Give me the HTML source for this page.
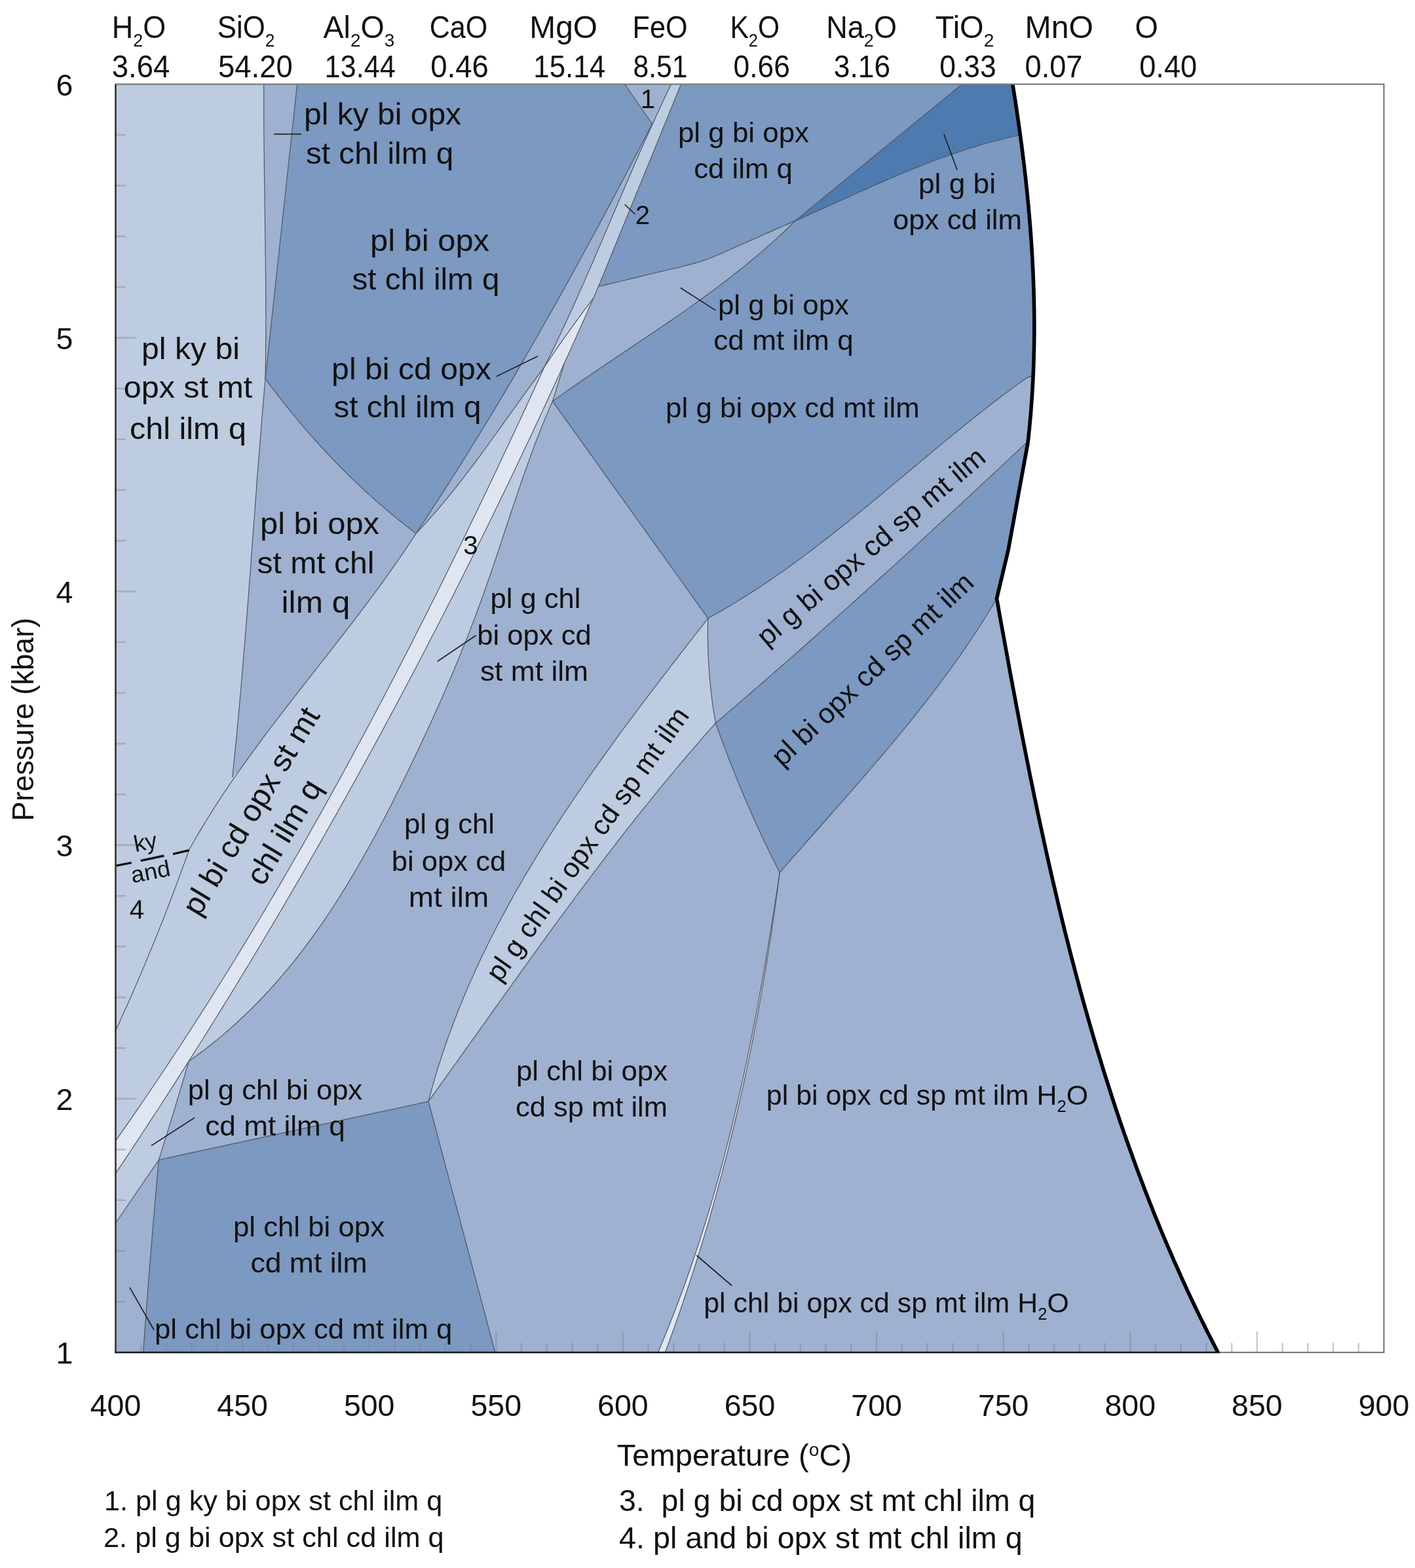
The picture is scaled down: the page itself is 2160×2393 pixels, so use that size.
<!DOCTYPE html>
<html lang="en"><head><meta charset="utf-8"><title>P-T pseudosection</title>
<style>html,body{margin:0;padding:0;background:#fff}body{width:2160px;height:2393px;overflow:hidden}svg{display:block}text{font-family:'Liberation Sans', sans-serif;fill:#111}</style>
</head><body>
<svg width="2160" height="2393" viewBox="0 0 2160 2393">
<rect x="0" y="0" width="2160" height="2393" fill="#fff"/>
<g stroke="none">
<path fill="#9eb1d0" d="M176.5,128.5 L1545.8,128.5 L1546.0,129.9 L1546.2,131.2 L1546.5,132.6 L1546.7,133.9 L1546.9,135.3 L1547.1,136.6 L1547.3,138.0 L1547.5,139.4 L1547.8,140.7 L1548.0,142.1 L1548.2,143.4 L1548.4,144.8 L1548.6,146.2 L1548.8,147.5 L1549.0,148.9 L1549.2,150.2 L1549.5,151.6 L1549.7,152.9 L1549.9,154.3 L1550.1,155.7 L1550.3,157.0 L1550.5,158.4 L1550.7,159.7 L1550.9,161.1 L1551.1,162.5 L1551.3,163.8 L1551.5,165.2 L1551.7,166.5 L1551.9,167.9 L1552.1,169.3 L1552.3,170.6 L1552.5,172.0 L1552.7,173.3 L1552.9,174.7 L1553.1,176.1 L1553.3,177.4 L1553.5,178.8 L1553.7,180.1 L1553.9,181.5 L1554.1,182.9 L1554.3,184.2 L1554.5,185.6 L1554.7,187.0 L1554.9,188.3 L1555.1,189.7 L1555.3,191.0 L1555.5,192.4 L1555.7,193.8 L1555.9,195.1 L1556.1,196.5 L1556.3,197.8 L1556.4,199.2 L1556.6,200.6 L1556.8,201.9 L1557.0,203.3 L1557.2,204.7 L1557.4,206.0 L1557.6,207.4 L1557.8,208.7 L1557.9,210.1 L1558.1,211.5 L1558.3,212.8 L1558.5,214.2 L1558.7,215.6 L1558.8,216.9 L1559.0,218.3 L1559.2,219.6 L1559.4,221.0 L1559.6,222.4 L1559.7,223.7 L1559.9,225.1 L1560.1,226.5 L1560.3,227.8 L1560.4,229.2 L1560.6,230.6 L1560.8,231.9 L1561.0,233.3 L1561.1,234.6 L1561.3,236.0 L1561.5,237.4 L1561.6,238.7 L1561.8,240.1 L1562.0,241.5 L1562.2,242.8 L1562.3,244.2 L1562.5,245.6 L1562.7,246.9 L1562.8,248.3 L1563.0,249.7 L1563.1,251.0 L1563.3,252.4 L1563.5,253.7 L1563.6,255.1 L1563.8,256.5 L1563.9,257.8 L1564.1,259.2 L1564.3,260.6 L1564.4,261.9 L1564.6,263.3 L1564.7,264.7 L1564.9,266.0 L1565.0,267.4 L1565.2,268.8 L1565.4,270.1 L1565.5,271.5 L1565.7,272.9 L1565.8,274.2 L1566.0,275.6 L1566.1,277.0 L1566.3,278.3 L1566.4,279.7 L1566.5,281.1 L1566.7,282.4 L1566.8,283.8 L1567.0,285.2 L1567.1,286.5 L1567.3,287.9 L1567.4,289.3 L1567.6,290.6 L1567.7,292.0 L1567.8,293.4 L1568.0,294.7 L1568.1,296.1 L1568.3,297.5 L1568.4,298.8 L1568.5,300.2 L1568.7,301.6 L1568.8,302.9 L1568.9,304.3 L1569.1,305.7 L1569.2,307.0 L1569.3,308.4 L1569.5,309.8 L1569.6,311.1 L1569.7,312.5 L1569.8,313.9 L1570.0,315.2 L1570.1,316.6 L1570.2,318.0 L1570.3,319.3 L1570.5,320.7 L1570.6,322.1 L1570.7,323.5 L1570.8,324.8 L1571.0,326.2 L1571.1,327.6 L1571.2,328.9 L1571.3,330.3 L1571.4,331.7 L1571.5,333.0 L1571.7,334.4 L1571.8,335.8 L1571.9,337.1 L1572.0,338.5 L1572.1,339.9 L1572.2,341.2 L1572.3,342.6 L1572.4,344.0 L1572.6,345.3 L1572.7,346.7 L1572.8,348.1 L1572.9,349.5 L1573.0,350.8 L1573.1,352.2 L1573.2,353.6 L1573.3,354.9 L1573.4,356.3 L1573.5,357.7 L1573.6,359.0 L1573.7,360.4 L1573.8,361.8 L1573.9,363.2 L1574.0,364.5 L1574.1,365.9 L1574.2,367.3 L1574.3,368.6 L1574.4,370.0 L1574.5,371.4 L1574.5,372.7 L1574.6,374.1 L1574.7,375.5 L1574.8,376.9 L1574.9,378.2 L1575.0,379.6 L1575.1,381.0 L1575.2,382.3 L1575.2,383.7 L1575.3,385.1 L1575.4,386.4 L1575.5,387.8 L1575.6,389.2 L1575.6,390.6 L1575.7,391.9 L1575.8,393.3 L1575.9,394.7 L1576.0,396.0 L1576.0,397.4 L1576.1,398.8 L1576.2,400.1 L1576.2,401.5 L1576.3,402.9 L1576.4,404.3 L1576.5,405.6 L1576.5,407.0 L1576.6,408.4 L1576.7,409.7 L1576.7,411.1 L1576.8,412.5 L1576.9,413.9 L1576.9,415.2 L1577.0,416.6 L1577.0,418.0 L1577.1,419.3 L1577.2,420.7 L1577.2,422.1 L1577.3,423.5 L1577.3,424.8 L1577.4,426.2 L1577.4,427.6 L1577.5,428.9 L1577.5,430.3 L1577.6,431.7 L1577.6,433.1 L1577.7,434.4 L1577.7,435.8 L1577.8,437.2 L1577.8,438.5 L1577.9,439.9 L1577.9,441.3 L1578.0,442.7 L1578.0,444.0 L1578.0,445.4 L1578.1,446.8 L1578.1,448.1 L1578.2,449.5 L1578.2,450.9 L1578.2,452.3 L1578.3,453.6 L1578.3,455.0 L1578.3,456.4 L1578.4,457.8 L1578.4,459.1 L1578.4,460.5 L1578.4,461.9 L1578.5,463.2 L1578.5,464.6 L1578.5,466.0 L1578.5,467.4 L1578.6,468.7 L1578.6,470.1 L1578.6,471.5 L1578.6,472.8 L1578.7,474.2 L1578.7,475.6 L1578.7,477.0 L1578.7,478.3 L1578.7,479.7 L1578.7,481.1 L1578.7,482.5 L1578.8,483.8 L1578.8,485.2 L1578.8,486.6 L1578.8,487.9 L1578.8,489.3 L1578.8,490.7 L1578.8,492.1 L1578.8,493.4 L1578.8,494.8 L1578.8,496.2 L1578.8,497.5 L1578.8,498.9 L1578.8,500.3 L1578.8,501.7 L1578.8,503.0 L1578.8,504.4 L1578.8,505.8 L1578.8,507.2 L1578.8,508.5 L1578.8,509.9 L1578.8,511.3 L1578.8,512.6 L1578.7,514.0 L1578.7,515.4 L1578.7,516.8 L1578.7,518.1 L1578.7,519.5 L1578.7,520.9 L1578.6,522.3 L1578.6,523.6 L1578.6,525.0 L1578.6,526.4 L1578.6,527.8 L1578.5,529.1 L1578.5,530.5 L1578.5,531.9 L1578.5,533.2 L1578.4,534.6 L1578.4,536.0 L1578.4,537.4 L1578.3,538.7 L1578.3,540.1 L1578.3,541.5 L1578.2,542.9 L1578.2,544.2 L1578.2,545.6 L1578.1,547.0 L1578.1,548.3 L1578.0,549.7 L1578.0,551.1 L1577.9,552.5 L1577.9,553.8 L1577.9,555.2 L1577.8,556.6 L1577.8,558.0 L1577.7,559.3 L1577.7,560.7 L1577.6,562.1 L1577.6,563.4 L1577.5,564.8 L1577.4,566.2 L1577.4,567.6 L1577.3,568.9 L1577.3,570.3 L1577.2,571.7 L1577.2,573.1 L1577.1,574.4 L1577.0,575.8 L1577.0,577.2 L1576.9,578.5 L1576.8,579.9 L1576.8,581.3 L1576.7,582.7 L1576.6,584.0 L1576.5,585.4 L1576.5,586.8 L1576.4,588.2 L1576.3,589.5 L1576.2,590.9 L1576.2,592.3 L1576.1,593.7 L1576.0,595.0 L1575.9,596.4 L1575.8,597.8 L1575.8,599.1 L1575.7,600.5 L1575.6,601.9 L1575.5,603.3 L1575.4,604.6 L1575.3,606.0 L1575.2,607.4 L1575.1,608.8 L1575.0,610.1 L1574.9,611.5 L1574.8,612.9 L1574.7,614.2 L1574.6,615.6 L1574.5,617.0 L1574.4,618.4 L1574.3,619.7 L1574.2,621.1 L1574.1,622.5 L1574.0,623.9 L1573.9,625.2 L1573.8,626.6 L1573.7,628.0 L1573.6,629.3 L1573.5,630.7 L1573.4,632.1 L1573.2,633.5 L1573.1,634.8 L1573.0,636.2 L1572.9,637.6 L1572.8,639.0 L1572.6,640.3 L1572.5,641.7 L1572.4,643.1 L1572.3,644.4 L1572.1,645.8 L1572.0,647.2 L1571.9,648.6 L1571.7,649.9 L1571.6,651.3 L1571.5,652.7 L1571.3,654.0 L1571.2,655.4 L1571.1,656.8 L1570.9,658.2 L1570.8,659.5 L1570.6,660.9 L1570.5,662.3 L1570.4,663.7 L1570.2,665.0 L1570.1,666.4 L1569.9,667.8 L1569.8,669.1 L1569.6,670.5 L1569.5,671.9 L1569.3,673.3 L1569.2,674.6 L1569.0,676.0 L1539.0,840.0 L1521.5,913.5 L1523.3,923.3 L1525.0,933.2 L1526.8,943.0 L1528.6,952.9 L1530.4,962.7 L1532.2,972.6 L1534.0,982.4 L1535.8,992.3 L1537.6,1002.1 L1539.4,1012.0 L1541.2,1021.9 L1543.0,1031.7 L1544.9,1041.6 L1546.7,1051.4 L1548.6,1061.3 L1550.4,1071.1 L1552.3,1081.0 L1554.2,1090.9 L1556.1,1100.7 L1558.0,1110.6 L1559.9,1120.4 L1561.8,1130.3 L1563.8,1140.1 L1565.7,1150.0 L1567.7,1159.8 L1569.7,1169.7 L1571.6,1179.5 L1573.6,1189.4 L1575.7,1199.2 L1577.7,1209.1 L1579.7,1218.9 L1581.8,1228.7 L1583.8,1238.6 L1585.9,1248.4 L1588.0,1258.2 L1590.2,1268.0 L1592.3,1277.9 L1594.4,1287.7 L1596.6,1297.5 L1598.8,1307.3 L1601.0,1317.1 L1603.2,1326.9 L1605.4,1336.7 L1607.7,1346.5 L1610.0,1356.2 L1612.3,1366.0 L1614.6,1375.8 L1616.9,1385.6 L1619.3,1395.3 L1621.6,1405.1 L1624.0,1414.8 L1626.4,1424.6 L1628.9,1434.3 L1631.3,1444.0 L1633.8,1453.8 L1636.3,1463.5 L1638.9,1473.2 L1641.4,1482.9 L1644.0,1492.6 L1646.6,1502.3 L1649.2,1512.0 L1651.9,1521.7 L1654.5,1531.3 L1657.2,1541.0 L1660.0,1550.6 L1662.7,1560.3 L1665.5,1569.9 L1668.3,1579.5 L1671.1,1589.1 L1674.0,1598.8 L1676.9,1608.4 L1679.8,1617.9 L1682.7,1627.5 L1685.7,1637.1 L1688.7,1646.7 L1691.7,1656.2 L1694.8,1665.7 L1697.9,1675.3 L1701.0,1684.8 L1704.1,1694.3 L1707.3,1703.8 L1710.5,1713.3 L1713.8,1722.8 L1717.0,1732.2 L1720.4,1741.7 L1723.7,1751.1 L1727.1,1760.5 L1730.5,1770.0 L1733.9,1779.4 L1737.4,1788.8 L1740.9,1798.1 L1744.5,1807.5 L1748.0,1816.9 L1751.7,1826.2 L1755.3,1835.5 L1759.0,1844.8 L1762.7,1854.2 L1766.5,1863.4 L1770.3,1872.7 L1774.1,1882.0 L1778.0,1891.2 L1781.9,1900.5 L1785.9,1909.7 L1789.9,1918.9 L1793.9,1928.1 L1798.0,1937.2 L1802.1,1946.4 L1806.2,1955.5 L1810.4,1964.7 L1814.6,1973.8 L1818.9,1982.9 L1823.2,1992.0 L1827.6,2001.0 L1832.0,2010.1 L1836.4,2019.1 L1840.9,2028.1 L1845.4,2037.1 L1850.0,2046.1 L1854.6,2055.1 L1859.3,2064.0 L176.5,2064.0Z"/>
<path fill="#7b99c1" d="M453.6,128.5 L405.0,578.0 L407.0,580.7 L409.0,583.3 L410.9,586.0 L412.9,588.7 L414.9,591.3 L416.9,593.9 L419.0,596.6 L421.0,599.2 L423.0,601.8 L425.0,604.5 L427.1,607.1 L429.1,609.7 L431.2,612.3 L433.2,614.9 L435.3,617.5 L437.3,620.1 L439.4,622.7 L441.5,625.2 L443.6,627.8 L445.7,630.4 L447.8,632.9 L449.9,635.5 L452.0,638.0 L454.1,640.6 L456.2,643.1 L458.4,645.6 L460.5,648.1 L462.6,650.7 L464.8,653.2 L467.0,655.7 L469.1,658.2 L471.3,660.7 L473.5,663.1 L475.6,665.6 L477.8,668.1 L480.0,670.6 L482.2,673.0 L484.4,675.5 L486.7,677.9 L488.9,680.4 L491.1,682.8 L493.3,685.2 L495.6,687.6 L497.8,690.1 L500.1,692.5 L502.4,694.9 L504.6,697.3 L506.9,699.6 L509.2,702.0 L511.5,704.4 L513.8,706.8 L516.1,709.1 L518.4,711.5 L520.7,713.8 L523.0,716.2 L525.4,718.5 L527.7,720.8 L530.0,723.2 L532.4,725.5 L534.8,727.8 L537.1,730.1 L539.5,732.4 L541.9,734.7 L544.3,736.9 L546.7,739.2 L549.1,741.5 L551.5,743.7 L553.9,746.0 L556.3,748.2 L558.7,750.5 L561.2,752.7 L563.6,754.9 L566.1,757.1 L568.5,759.3 L571.0,761.5 L573.5,763.7 L576.0,765.9 L578.5,768.1 L580.9,770.3 L583.5,772.4 L586.0,774.6 L588.5,776.7 L591.0,778.9 L593.5,781.0 L596.1,783.1 L598.6,785.3 L601.2,787.4 L603.7,789.5 L606.3,791.6 L608.9,793.7 L611.5,795.7 L614.1,797.8 L616.7,799.9 L619.3,801.9 L621.9,804.0 L624.5,806.0 L627.2,808.0 L629.8,810.1 L632.4,812.1 L635.1,814.1 L645.1,799.0 L655.0,783.9 L664.9,768.8 L674.7,753.6 L684.5,738.4 L694.1,723.2 L703.8,707.9 L713.3,692.6 L722.8,677.3 L732.3,661.9 L741.7,646.5 L751.0,631.1 L760.3,615.6 L769.6,600.1 L778.8,584.6 L787.9,569.0 L797.0,553.4 L806.0,537.8 L815.0,522.2 L824.0,506.5 L832.9,490.8 L841.8,475.1 L850.6,459.4 L859.4,443.6 L868.1,427.9 L876.9,412.1 L885.5,396.2 L894.2,380.4 L902.8,364.5 L911.4,348.7 L919.9,332.8 L928.4,316.9 L936.9,300.9 L945.4,285.0 L953.8,269.0 L962.2,253.0 L970.6,237.0 L978.9,221.0 L987.3,205.0 L995.6,189.0 L953.7,128.5Z"/>
<path fill="#7b99c1" d="M1039.6,128.5 L913.6,437.3 L917.9,436.3 L923.4,434.9 L930.0,433.4 L937.3,431.6 L945.3,429.7 L953.7,427.7 L962.2,425.6 L970.7,423.6 L978.9,421.6 L986.7,419.7 L993.8,418.0 L1000.0,416.5 L1005.5,415.2 L1010.6,414.0 L1015.4,412.9 L1019.9,411.8 L1024.2,410.8 L1028.2,409.9 L1032.1,409.0 L1035.8,408.1 L1039.4,407.2 L1043.0,406.3 L1046.5,405.4 L1050.0,404.5 L1053.3,403.6 L1056.4,402.8 L1059.1,402.1 L1061.7,401.4 L1064.1,400.7 L1066.6,400.0 L1069.0,399.3 L1071.7,398.4 L1074.5,397.5 L1077.6,396.3 L1081.1,395.0 L1085.0,393.5 L1089.4,391.7 L1094.1,389.8 L1099.2,387.6 L1104.5,385.3 L1110.0,382.8 L1115.7,380.3 L1121.5,377.7 L1127.3,375.1 L1133.1,372.5 L1138.9,369.9 L1144.5,367.4 L1150.0,365.0 L1155.6,362.6 L1161.4,360.0 L1167.5,357.3 L1173.7,354.6 L1179.9,351.9 L1185.9,349.3 L1191.7,346.7 L1197.2,344.3 L1202.3,342.1 L1206.8,340.1 L1210.6,338.4 L1213.7,337.1 L1468.7,128.5Z"/>
<path fill="#7b99c1" d="M1213.7,337.1 L1222.1,333.4 L1230.5,329.7 L1238.9,325.9 L1247.3,322.1 L1255.7,318.4 L1264.1,314.6 L1272.5,310.8 L1280.9,307.0 L1289.3,303.2 L1297.7,299.4 L1306.1,295.6 L1314.6,291.8 L1323.0,288.1 L1331.4,284.3 L1339.8,280.6 L1348.3,276.9 L1356.8,273.3 L1365.2,269.6 L1373.7,266.0 L1382.2,262.5 L1390.7,259.0 L1399.3,255.6 L1407.8,252.2 L1416.4,248.8 L1425.0,245.5 L1433.6,242.3 L1442.3,239.2 L1451.0,236.1 L1459.7,233.1 L1468.4,230.2 L1477.1,227.3 L1485.9,224.6 L1494.7,221.9 L1503.6,219.3 L1512.5,216.8 L1521.4,214.5 L1530.3,212.2 L1539.3,210.0 L1548.3,208.0 L1557.4,206.0 L1557.6,207.4 L1557.8,208.7 L1557.9,210.1 L1558.1,211.5 L1558.3,212.8 L1558.5,214.2 L1558.7,215.6 L1558.8,216.9 L1559.0,218.3 L1559.2,219.6 L1559.4,221.0 L1559.6,222.4 L1559.7,223.7 L1559.9,225.1 L1560.1,226.5 L1560.3,227.8 L1560.4,229.2 L1560.6,230.6 L1560.8,231.9 L1561.0,233.3 L1561.1,234.6 L1561.3,236.0 L1561.5,237.4 L1561.6,238.7 L1561.8,240.1 L1562.0,241.5 L1562.2,242.8 L1562.3,244.2 L1562.5,245.6 L1562.7,246.9 L1562.8,248.3 L1563.0,249.7 L1563.1,251.0 L1563.3,252.4 L1563.5,253.7 L1563.6,255.1 L1563.8,256.5 L1563.9,257.8 L1564.1,259.2 L1564.3,260.6 L1564.4,261.9 L1564.6,263.3 L1564.7,264.7 L1564.9,266.0 L1565.0,267.4 L1565.2,268.8 L1565.4,270.1 L1565.5,271.5 L1565.7,272.9 L1565.8,274.2 L1566.0,275.6 L1566.1,277.0 L1566.3,278.3 L1566.4,279.7 L1566.5,281.1 L1566.7,282.4 L1566.8,283.8 L1567.0,285.2 L1567.1,286.5 L1567.3,287.9 L1567.4,289.3 L1567.6,290.6 L1567.7,292.0 L1567.8,293.4 L1568.0,294.7 L1568.1,296.1 L1568.3,297.5 L1568.4,298.8 L1568.5,300.2 L1568.7,301.6 L1568.8,302.9 L1568.9,304.3 L1569.1,305.7 L1569.2,307.0 L1569.3,308.4 L1569.5,309.8 L1569.6,311.1 L1569.7,312.5 L1569.8,313.9 L1570.0,315.2 L1570.1,316.6 L1570.2,318.0 L1570.3,319.3 L1570.5,320.7 L1570.6,322.1 L1570.7,323.5 L1570.8,324.8 L1571.0,326.2 L1571.1,327.6 L1571.2,328.9 L1571.3,330.3 L1571.4,331.7 L1571.5,333.0 L1571.7,334.4 L1571.8,335.8 L1571.9,337.1 L1572.0,338.5 L1572.1,339.9 L1572.2,341.2 L1572.3,342.6 L1572.4,344.0 L1572.6,345.3 L1572.7,346.7 L1572.8,348.1 L1572.9,349.5 L1573.0,350.8 L1573.1,352.2 L1573.2,353.6 L1573.3,354.9 L1573.4,356.3 L1573.5,357.7 L1573.6,359.0 L1573.7,360.4 L1573.8,361.8 L1573.9,363.2 L1574.0,364.5 L1574.1,365.9 L1574.2,367.3 L1574.3,368.6 L1574.4,370.0 L1574.5,371.4 L1574.5,372.7 L1574.6,374.1 L1574.7,375.5 L1574.8,376.9 L1574.9,378.2 L1575.0,379.6 L1575.1,381.0 L1575.2,382.3 L1575.2,383.7 L1575.3,385.1 L1575.4,386.4 L1575.5,387.8 L1575.6,389.2 L1575.6,390.6 L1575.7,391.9 L1575.8,393.3 L1575.9,394.7 L1576.0,396.0 L1576.0,397.4 L1576.1,398.8 L1576.2,400.1 L1576.2,401.5 L1576.3,402.9 L1576.4,404.3 L1576.5,405.6 L1576.5,407.0 L1576.6,408.4 L1576.7,409.7 L1576.7,411.1 L1576.8,412.5 L1576.9,413.9 L1576.9,415.2 L1577.0,416.6 L1577.0,418.0 L1577.1,419.3 L1577.2,420.7 L1577.2,422.1 L1577.3,423.5 L1577.3,424.8 L1577.4,426.2 L1577.4,427.6 L1577.5,428.9 L1577.5,430.3 L1577.6,431.7 L1577.6,433.1 L1577.7,434.4 L1577.7,435.8 L1577.8,437.2 L1577.8,438.5 L1577.9,439.9 L1577.9,441.3 L1578.0,442.7 L1578.0,444.0 L1578.0,445.4 L1578.1,446.8 L1578.1,448.1 L1578.2,449.5 L1578.2,450.9 L1578.2,452.3 L1578.3,453.6 L1578.3,455.0 L1578.3,456.4 L1578.4,457.8 L1578.4,459.1 L1578.4,460.5 L1578.4,461.9 L1578.5,463.2 L1578.5,464.6 L1578.5,466.0 L1578.5,467.4 L1578.6,468.7 L1578.6,470.1 L1578.6,471.5 L1578.6,472.8 L1578.7,474.2 L1578.7,475.6 L1578.7,477.0 L1578.7,478.3 L1578.7,479.7 L1578.7,481.1 L1578.7,482.5 L1578.8,483.8 L1578.8,485.2 L1578.8,486.6 L1578.8,487.9 L1578.8,489.3 L1578.8,490.7 L1578.8,492.1 L1578.8,493.4 L1578.8,494.8 L1578.8,496.2 L1578.8,497.5 L1578.8,498.9 L1578.8,500.3 L1578.8,501.7 L1578.8,503.0 L1578.8,504.4 L1578.8,505.8 L1578.8,507.2 L1578.8,508.5 L1578.8,509.9 L1578.8,511.3 L1578.8,512.6 L1578.7,514.0 L1578.7,515.4 L1578.7,516.8 L1578.7,518.1 L1578.7,519.5 L1578.7,520.9 L1578.6,522.3 L1578.6,523.6 L1578.6,525.0 L1578.6,526.4 L1578.6,527.8 L1578.5,529.1 L1578.5,530.5 L1578.5,531.9 L1578.5,533.2 L1578.4,534.6 L1578.4,536.0 L1578.4,537.4 L1578.3,538.7 L1578.3,540.1 L1578.3,541.5 L1578.2,542.9 L1578.2,544.2 L1578.2,545.6 L1578.1,547.0 L1578.1,548.3 L1578.0,549.7 L1578.0,551.1 L1577.9,552.5 L1577.9,553.8 L1577.9,555.2 L1577.8,556.6 L1577.8,558.0 L1577.7,559.3 L1577.7,560.7 L1577.6,562.1 L1577.6,563.4 L1577.5,564.8 L1577.4,566.2 L1577.4,567.6 L1577.3,568.9 L1577.3,570.3 L1577.2,571.7 L1577.2,573.1 L1567.3,576.6 L1562.3,580.2 L1557.3,583.8 L1552.3,587.4 L1547.3,591.0 L1542.4,594.7 L1537.5,598.4 L1532.5,602.1 L1527.6,605.8 L1522.7,609.5 L1517.8,613.3 L1512.9,617.0 L1508.1,620.8 L1503.2,624.6 L1498.4,628.4 L1493.5,632.2 L1488.7,636.0 L1483.9,639.9 L1479.1,643.7 L1474.3,647.6 L1469.5,651.5 L1464.7,655.3 L1459.9,659.2 L1455.1,663.1 L1450.4,667.0 L1445.6,670.9 L1440.8,674.9 L1436.1,678.8 L1431.3,682.7 L1426.6,686.6 L1421.8,690.6 L1417.1,694.5 L1412.4,698.5 L1407.6,702.4 L1402.9,706.4 L1398.2,710.3 L1393.4,714.3 L1388.7,718.2 L1384.0,722.2 L1379.2,726.2 L1374.5,730.1 L1369.8,734.1 L1365.0,738.0 L1360.3,742.0 L1355.6,745.9 L1350.8,749.9 L1346.1,753.8 L1341.4,757.8 L1336.6,761.7 L1331.9,765.6 L1327.1,769.5 L1322.4,773.5 L1317.6,777.4 L1312.8,781.3 L1308.0,785.2 L1303.3,789.0 L1298.5,792.9 L1293.7,796.8 L1288.9,800.6 L1284.1,804.5 L1279.3,808.3 L1274.4,812.1 L1269.6,816.0 L1264.7,819.8 L1259.9,823.5 L1255.0,827.3 L1250.2,831.1 L1245.3,834.8 L1240.4,838.5 L1235.5,842.2 L1230.5,845.9 L1225.6,849.6 L1220.7,853.3 L1215.7,856.9 L1210.7,860.5 L1205.7,864.2 L1200.7,867.7 L1195.7,871.3 L1190.7,874.8 L1185.6,878.4 L1180.6,881.9 L1175.5,885.4 L1170.4,888.8 L1165.3,892.2 L1160.2,895.7 L1155.0,899.0 L1149.8,902.4 L1144.6,905.7 L1139.4,909.0 L1134.2,912.3 L1129.0,915.6 L1123.7,918.8 L1118.4,922.0 L1113.1,925.2 L1107.8,928.3 L1102.4,931.4 L1097.1,934.5 L1091.7,937.6 L1086.2,940.6 L1080.8,943.6 L843.5,612.3 L852.9,605.6 L862.3,598.9 L871.8,592.3 L881.2,585.7 L890.7,579.2 L900.3,572.7 L909.8,566.2 L919.4,559.7 L929.0,553.3 L938.5,546.9 L948.1,540.4 L957.7,534.0 L967.3,527.6 L976.9,521.1 L986.5,514.7 L996.1,508.2 L1005.6,501.8 L1015.2,495.3 L1024.7,488.7 L1034.2,482.2 L1043.6,475.6 L1053.1,468.9 L1062.5,462.3 L1071.8,455.5 L1081.1,448.7 L1090.4,441.9 L1099.6,435.0 L1108.8,428.0 L1117.9,420.9 L1127.0,413.8 L1136.0,406.6 L1144.9,399.2 L1153.8,391.8 L1162.6,384.4 L1171.3,376.8 L1180.0,369.1 L1188.5,361.2 L1197.0,353.3 L1205.4,345.3 L1213.7,337.1Z"/>
<path fill="#7b99c1" d="M1092.4,1103.5 L1097.3,1099.4 L1102.1,1095.2 L1107.0,1091.1 L1111.8,1086.9 L1116.7,1082.7 L1121.5,1078.6 L1126.3,1074.4 L1131.2,1070.2 L1136.0,1066.1 L1140.9,1061.9 L1145.7,1057.7 L1150.5,1053.5 L1155.3,1049.4 L1160.2,1045.2 L1165.0,1041.0 L1169.8,1036.8 L1174.6,1032.6 L1179.4,1028.4 L1184.2,1024.2 L1189.0,1020.0 L1193.8,1015.8 L1198.6,1011.6 L1203.4,1007.4 L1208.2,1003.1 L1213.0,998.9 L1217.8,994.7 L1222.6,990.5 L1227.4,986.3 L1232.2,982.0 L1236.9,977.8 L1241.7,973.6 L1246.5,969.3 L1251.3,965.1 L1256.0,960.8 L1260.8,956.6 L1265.6,952.3 L1270.3,948.1 L1275.1,943.8 L1279.8,939.6 L1284.6,935.3 L1289.4,931.1 L1294.1,926.8 L1298.9,922.5 L1303.6,918.3 L1308.4,914.0 L1313.1,909.7 L1317.8,905.5 L1322.6,901.2 L1327.3,896.9 L1332.0,892.6 L1336.8,888.3 L1341.5,884.0 L1346.2,879.8 L1351.0,875.5 L1355.7,871.2 L1360.4,866.9 L1365.1,862.6 L1369.8,858.3 L1374.6,854.0 L1379.3,849.7 L1384.0,845.4 L1388.7,841.1 L1393.4,836.7 L1398.1,832.4 L1402.8,828.1 L1407.5,823.8 L1412.2,819.5 L1416.9,815.2 L1421.6,810.8 L1426.3,806.5 L1431.0,802.2 L1435.7,797.9 L1440.4,793.5 L1445.1,789.2 L1449.8,784.9 L1454.5,780.5 L1459.2,776.2 L1463.8,771.9 L1468.5,767.5 L1473.2,763.2 L1477.9,758.8 L1482.6,754.5 L1487.2,750.1 L1491.9,745.8 L1496.6,741.4 L1501.2,737.1 L1505.9,732.7 L1510.6,728.4 L1515.3,724.0 L1519.9,719.7 L1524.6,715.3 L1529.2,710.9 L1533.9,706.6 L1538.6,702.2 L1543.2,697.8 L1547.9,693.5 L1552.5,689.1 L1557.2,684.7 L1561.8,680.4 L1566.5,676.0 L1539.0,840.0 L1521.5,913.5 L1514.6,925.1 L1507.6,936.5 L1500.5,947.9 L1493.3,959.2 L1485.9,970.4 L1478.5,981.5 L1471.0,992.6 L1463.3,1003.6 L1455.6,1014.5 L1447.8,1025.3 L1439.9,1036.0 L1431.9,1046.7 L1423.8,1057.3 L1415.7,1067.9 L1407.4,1078.4 L1399.2,1088.9 L1390.8,1099.3 L1382.4,1109.7 L1374.0,1120.0 L1365.5,1130.3 L1356.9,1140.5 L1348.3,1150.7 L1339.6,1160.9 L1331.0,1171.0 L1322.3,1181.1 L1313.5,1191.2 L1304.7,1201.3 L1296.0,1211.4 L1287.2,1221.4 L1278.3,1231.4 L1269.5,1241.5 L1260.7,1251.5 L1251.8,1261.5 L1243.0,1271.5 L1234.2,1281.5 L1225.3,1291.6 L1216.5,1301.6 L1207.7,1311.6 L1199.0,1321.7 L1190.2,1331.8 L1187.4,1326.2 L1184.6,1320.7 L1181.8,1315.1 L1179.1,1309.5 L1176.3,1304.0 L1173.6,1298.4 L1170.9,1292.8 L1168.2,1287.2 L1165.6,1281.6 L1162.9,1275.9 L1160.3,1270.3 L1157.7,1264.7 L1155.1,1259.0 L1152.6,1253.4 L1150.0,1247.7 L1147.5,1242.0 L1145.0,1236.3 L1142.5,1230.7 L1140.0,1225.0 L1137.5,1219.3 L1135.1,1213.5 L1132.7,1207.8 L1130.3,1202.1 L1127.9,1196.4 L1125.6,1190.6 L1123.2,1184.9 L1120.9,1179.1 L1118.6,1173.3 L1116.3,1167.6 L1114.0,1161.8 L1111.8,1156.0 L1109.6,1150.2 L1107.3,1144.4 L1105.2,1138.6 L1103.0,1132.7 L1100.8,1126.9 L1098.7,1121.1 L1096.6,1115.2 L1094.5,1109.4 L1092.4,1103.5Z"/>
<path fill="#7b99c1" d="M242.4,1770.2 L654.0,1681.0 L755.8,2064.0 L218.7,2064.0 L219.2,2056.6 L219.7,2049.3 L220.3,2041.9 L220.8,2034.6 L221.3,2027.2 L221.9,2019.9 L222.4,2012.5 L222.9,2005.2 L223.5,1997.9 L224.0,1990.5 L224.6,1983.2 L225.1,1975.8 L225.7,1968.5 L226.3,1961.1 L226.8,1953.8 L227.4,1946.4 L228.0,1939.1 L228.6,1931.7 L229.2,1924.4 L229.8,1917.0 L230.4,1909.7 L231.0,1902.3 L231.6,1895.0 L232.2,1887.7 L232.8,1880.3 L233.4,1873.0 L234.0,1865.6 L234.6,1858.3 L235.3,1850.9 L235.9,1843.6 L236.5,1836.3 L237.2,1828.9 L237.8,1821.6 L238.4,1814.2 L239.1,1806.9 L239.7,1799.6 L240.4,1792.2 L241.1,1784.9 L241.7,1777.5 L242.4,1770.2Z"/>
<path fill="#4e7baf" d="M1468.7,128.5 L1545.8,128.5 L1546.0,129.9 L1546.2,131.2 L1546.5,132.6 L1546.7,133.9 L1546.9,135.3 L1547.1,136.6 L1547.3,138.0 L1547.5,139.4 L1547.8,140.7 L1548.0,142.1 L1548.2,143.4 L1548.4,144.8 L1548.6,146.2 L1548.8,147.5 L1549.0,148.9 L1549.2,150.2 L1549.5,151.6 L1549.7,152.9 L1549.9,154.3 L1550.1,155.7 L1550.3,157.0 L1550.5,158.4 L1550.7,159.7 L1550.9,161.1 L1551.1,162.5 L1551.3,163.8 L1551.5,165.2 L1551.7,166.5 L1551.9,167.9 L1552.1,169.3 L1552.3,170.6 L1552.5,172.0 L1552.7,173.3 L1552.9,174.7 L1553.1,176.1 L1553.3,177.4 L1553.5,178.8 L1553.7,180.1 L1553.9,181.5 L1554.1,182.9 L1554.3,184.2 L1554.5,185.6 L1554.7,187.0 L1554.9,188.3 L1555.1,189.7 L1555.3,191.0 L1555.5,192.4 L1555.7,193.8 L1555.9,195.1 L1556.1,196.5 L1556.3,197.8 L1556.4,199.2 L1556.6,200.6 L1556.8,201.9 L1557.0,203.3 L1557.2,204.7 L1557.4,206.0 L1548.3,208.0 L1539.3,210.0 L1530.3,212.2 L1521.4,214.5 L1512.5,216.8 L1503.6,219.3 L1494.7,221.9 L1485.9,224.6 L1477.1,227.3 L1468.4,230.2 L1459.7,233.1 L1451.0,236.1 L1442.3,239.2 L1433.6,242.3 L1425.0,245.5 L1416.4,248.8 L1407.8,252.2 L1399.3,255.6 L1390.7,259.0 L1382.2,262.5 L1373.7,266.0 L1365.2,269.6 L1356.8,273.3 L1348.3,276.9 L1339.8,280.6 L1331.4,284.3 L1323.0,288.1 L1314.6,291.8 L1306.1,295.6 L1297.7,299.4 L1289.3,303.2 L1280.9,307.0 L1272.5,310.8 L1264.1,314.6 L1255.7,318.4 L1247.3,322.1 L1238.9,325.9 L1230.5,329.7 L1222.1,333.4 L1213.7,337.1Z"/>
<path fill="#bdcce0" d="M176.5,128.5 L402.7,128.5 L402.7,139.7 L402.7,151.0 L402.7,162.2 L402.7,173.5 L402.8,184.7 L402.8,195.9 L402.9,207.2 L403.0,218.4 L403.1,229.6 L403.3,240.9 L403.4,252.1 L403.5,263.3 L403.7,274.6 L403.8,285.8 L404.0,297.1 L404.1,308.3 L404.3,319.5 L404.4,330.8 L404.6,342.0 L404.7,353.2 L404.9,364.5 L405.0,375.7 L405.1,387.0 L405.3,398.2 L405.4,409.4 L405.5,420.7 L405.6,431.9 L405.7,443.1 L405.7,454.4 L405.8,465.6 L405.8,476.9 L405.8,488.1 L405.8,499.3 L405.8,510.6 L405.7,521.8 L405.6,533.0 L405.5,544.3 L405.4,555.5 L405.2,566.8 L405.0,578.0 L403.7,593.2 L402.4,608.4 L401.1,623.6 L399.8,638.8 L398.6,654.1 L397.4,669.3 L396.2,684.5 L395.0,699.7 L393.8,714.9 L392.6,730.1 L391.5,745.4 L390.3,760.6 L389.2,775.8 L388.1,791.0 L386.9,806.3 L385.8,821.5 L384.7,836.7 L383.5,851.9 L382.4,867.1 L381.3,882.4 L380.1,897.6 L379.0,912.8 L377.8,928.0 L376.6,943.2 L375.4,958.5 L374.2,973.7 L373.0,988.9 L371.7,1004.1 L370.5,1019.3 L369.2,1034.5 L367.9,1049.7 L366.5,1064.9 L365.2,1080.1 L363.8,1095.4 L362.3,1110.5 L360.9,1125.7 L359.4,1140.9 L357.9,1156.1 L356.3,1171.3 L354.7,1186.5 L368.6,1171.3 L377.3,1159.3 L386.0,1147.2 L394.8,1135.3 L403.6,1123.3 L412.6,1111.5 L421.6,1099.6 L430.6,1087.8 L439.7,1076.1 L448.8,1064.3 L457.9,1052.6 L467.1,1040.9 L476.3,1029.2 L485.4,1017.5 L494.6,1005.8 L503.8,994.1 L512.9,982.4 L522.1,970.6 L531.1,958.9 L540.2,947.1 L549.2,935.3 L558.2,923.4 L567.1,911.5 L575.9,899.6 L584.6,887.6 L593.3,875.5 L601.9,863.4 L610.3,851.2 L618.7,838.9 L627.0,826.5 L635.1,814.1 L640.7,808.3 L646.1,802.4 L651.6,796.4 L656.9,790.4 L662.3,784.4 L667.5,778.3 L672.7,772.2 L677.9,766.1 L683.0,759.9 L688.1,753.7 L693.1,747.4 L698.1,741.1 L703.0,734.8 L708.0,728.5 L712.8,722.1 L717.7,715.7 L722.5,709.3 L727.3,702.9 L732.1,696.4 L736.8,690.0 L741.6,683.5 L746.3,677.0 L751.0,670.5 L755.7,664.0 L760.4,657.5 L765.0,650.9 L769.7,644.4 L774.4,637.9 L779.0,631.4 L783.7,624.8 L788.4,618.3 L793.1,611.8 L797.7,605.3 L802.4,598.8 L807.2,592.3 L811.9,585.8 L816.6,579.3 L821.4,572.9 L826.2,566.4 L831.0,560.0 L836.3,549.4 L841.5,538.8 L846.7,528.2 L851.8,517.5 L856.9,506.8 L861.9,496.1 L866.8,485.4 L871.8,474.6 L876.7,463.9 L881.5,453.1 L886.3,442.3 L891.1,431.5 L895.8,420.6 L900.6,409.8 L905.3,399.0 L910.0,388.1 L914.6,377.2 L919.3,366.4 L923.9,355.5 L928.6,344.6 L933.2,333.7 L937.8,322.9 L942.5,312.0 L947.1,301.1 L951.8,290.2 L956.4,279.4 L961.1,268.5 L965.8,257.7 L970.5,246.8 L975.2,236.0 L980.0,225.2 L984.8,214.3 L989.6,203.6 L994.5,192.8 L999.4,182.0 L1004.3,171.3 L1009.3,160.5 L1014.3,149.8 L1019.4,139.2 L1024.5,128.5 L1039.6,128.5 L913.6,437.3 L912.1,440.8 L910.5,444.4 L909.0,447.9 L907.4,451.4 L905.9,455.0 L904.3,458.5 L902.8,462.0 L901.2,465.5 L899.6,469.1 L898.1,472.6 L896.5,476.1 L895.0,479.7 L893.4,483.2 L891.8,486.7 L890.3,490.2 L888.7,493.8 L887.1,497.3 L885.6,500.8 L884.0,504.3 L882.4,507.8 L880.8,511.4 L879.3,514.9 L877.7,518.4 L876.1,521.9 L874.5,525.4 L872.9,529.0 L871.4,532.5 L869.8,536.0 L868.2,539.5 L866.6,543.0 L865.0,546.5 L863.4,550.1 L861.8,553.6 L843.5,612.3 L840.5,619.1 L837.6,625.8 L834.8,632.6 L831.9,639.3 L829.2,646.1 L826.4,652.9 L823.7,659.7 L821.1,666.5 L818.4,673.3 L815.8,680.1 L813.3,686.9 L810.8,693.8 L808.3,700.6 L805.8,707.4 L803.3,714.3 L800.9,721.1 L798.5,727.9 L796.1,734.8 L793.8,741.6 L791.4,748.5 L789.1,755.4 L786.8,762.2 L784.5,769.1 L782.2,776.0 L779.9,782.8 L777.6,789.7 L775.3,796.6 L773.1,803.5 L770.8,810.3 L768.5,817.2 L766.2,824.1 L764.0,831.0 L761.7,837.9 L759.4,844.8 L757.1,851.6 L754.7,858.5 L752.4,865.4 L750.1,872.3 L747.7,879.2 L745.3,886.0 L742.9,892.9 L740.5,899.8 L738.1,906.7 L735.6,913.5 L733.1,920.4 L730.6,927.3 L728.0,934.2 L725.5,941.0 L722.9,947.9 L720.2,954.7 L717.6,961.6 L714.9,968.4 L712.2,975.3 L709.5,982.1 L706.7,989.0 L704.0,995.8 L701.2,1002.6 L698.4,1009.5 L695.5,1016.3 L692.7,1023.1 L689.8,1029.9 L686.9,1036.7 L684.0,1043.5 L681.1,1050.3 L678.1,1057.0 L675.2,1063.8 L672.2,1070.6 L669.2,1077.3 L666.2,1084.1 L663.1,1090.8 L660.1,1097.6 L657.0,1104.3 L653.9,1111.0 L650.8,1117.7 L647.7,1124.4 L644.6,1131.1 L641.4,1137.8 L638.3,1144.5 L635.1,1151.1 L631.9,1157.8 L628.8,1164.4 L625.5,1171.1 L622.3,1177.7 L619.1,1184.3 L615.9,1190.9 L612.6,1197.5 L609.4,1204.0 L606.1,1210.6 L602.8,1217.1 L599.5,1223.7 L596.2,1230.2 L592.9,1236.7 L589.5,1243.2 L586.2,1249.7 L582.8,1256.1 L579.4,1262.6 L576.0,1269.0 L572.6,1275.4 L569.1,1281.8 L565.6,1288.2 L562.1,1294.5 L558.6,1300.8 L555.0,1307.2 L551.5,1313.4 L547.9,1319.7 L544.2,1326.0 L540.6,1332.2 L536.9,1338.4 L533.2,1344.6 L529.5,1350.8 L525.7,1356.9 L521.9,1363.0 L518.1,1369.1 L514.2,1375.2 L510.4,1381.2 L506.4,1387.2 L502.5,1393.2 L498.5,1399.2 L494.5,1405.1 L490.4,1411.0 L486.3,1416.9 L482.2,1422.8 L478.0,1428.6 L473.8,1434.4 L469.5,1440.1 L465.2,1445.9 L460.9,1451.6 L456.5,1457.3 L452.1,1462.9 L447.6,1468.5 L443.1,1474.1 L438.5,1479.6 L433.9,1485.1 L429.2,1490.6 L424.5,1496.1 L419.8,1501.5 L414.9,1506.8 L410.1,1512.2 L405.2,1517.5 L400.2,1522.7 L395.2,1528.0 L390.1,1533.2 L385.0,1538.3 L379.8,1543.4 L374.5,1548.5 L369.2,1553.5 L363.8,1558.5 L358.4,1563.5 L352.9,1568.4 L347.3,1573.3 L341.7,1578.1 L336.0,1582.9 L330.3,1587.6 L324.5,1592.3 L318.6,1597.0 L312.7,1601.6 L306.6,1606.2 L300.6,1610.7 L294.4,1615.2 L288.2,1619.6 L287.1,1623.4 L286.0,1627.2 L284.9,1630.9 L283.7,1634.7 L282.6,1638.5 L281.5,1642.3 L280.4,1646.0 L279.3,1649.8 L278.2,1653.6 L277.0,1657.3 L275.9,1661.1 L274.8,1664.9 L273.6,1668.7 L272.5,1672.4 L271.4,1676.2 L270.2,1680.0 L269.1,1683.7 L268.0,1687.5 L266.8,1691.3 L265.7,1695.0 L264.5,1698.8 L263.4,1702.6 L262.2,1706.3 L261.1,1710.1 L259.9,1713.8 L258.8,1717.6 L257.6,1721.4 L256.5,1725.1 L255.3,1728.9 L254.1,1732.6 L253.0,1736.4 L251.8,1740.2 L250.6,1743.9 L249.5,1747.7 L248.3,1751.4 L247.1,1755.2 L245.9,1758.9 L244.8,1762.7 L243.6,1766.4 L242.4,1770.2 L176.5,1866.5Z"/>
<path fill="#bdcce0" d="M1080.8,943.6 L1075.6,950.3 L1070.3,957.1 L1065.1,963.8 L1059.8,970.5 L1054.6,977.3 L1049.3,984.1 L1044.1,990.8 L1038.8,997.6 L1033.6,1004.4 L1028.3,1011.2 L1023.1,1018.0 L1017.9,1024.8 L1012.6,1031.6 L1007.4,1038.4 L1002.2,1045.2 L997.0,1052.1 L991.8,1058.9 L986.6,1065.8 L981.4,1072.6 L976.2,1079.5 L971.1,1086.4 L965.9,1093.3 L960.8,1100.2 L955.6,1107.1 L950.5,1114.0 L945.4,1120.9 L940.3,1127.9 L935.3,1134.9 L930.2,1141.8 L925.2,1148.8 L920.2,1155.8 L915.2,1162.8 L910.2,1169.8 L905.2,1176.9 L900.3,1183.9 L895.3,1191.0 L890.4,1198.0 L885.6,1205.1 L880.7,1212.2 L875.9,1219.3 L871.1,1226.5 L866.3,1233.6 L861.5,1240.8 L856.8,1247.9 L852.1,1255.1 L847.4,1262.3 L842.7,1269.6 L838.1,1276.8 L833.5,1284.1 L829.0,1291.3 L824.4,1298.6 L819.9,1305.9 L815.4,1313.2 L811.0,1320.6 L806.6,1327.9 L802.2,1335.3 L797.9,1342.7 L793.6,1350.1 L789.3,1357.5 L785.1,1365.0 L780.9,1372.4 L776.8,1379.9 L772.7,1387.4 L768.6,1395.0 L764.6,1402.5 L760.6,1410.1 L756.6,1417.7 L752.7,1425.3 L748.8,1432.9 L745.0,1440.6 L741.3,1448.2 L737.5,1455.9 L733.8,1463.6 L730.2,1471.4 L726.6,1479.1 L723.1,1486.9 L719.6,1494.7 L716.1,1502.5 L712.7,1510.4 L709.4,1518.3 L706.1,1526.2 L702.8,1534.1 L699.6,1542.0 L696.5,1550.0 L693.4,1558.0 L690.4,1566.0 L687.4,1574.0 L684.5,1582.1 L681.6,1590.2 L678.8,1598.3 L676.0,1606.5 L673.4,1614.6 L670.7,1622.8 L668.1,1631.1 L665.6,1639.3 L663.2,1647.6 L660.8,1655.9 L658.5,1664.2 L656.2,1672.6 L654.0,1681.0 L658.2,1675.1 L662.5,1669.2 L666.7,1663.3 L670.9,1657.4 L675.2,1651.5 L679.4,1645.6 L683.6,1639.7 L687.8,1633.8 L692.0,1627.9 L696.3,1622.0 L700.5,1616.1 L704.7,1610.2 L708.9,1604.3 L713.1,1598.4 L717.3,1592.5 L721.5,1586.6 L725.7,1580.7 L729.9,1574.8 L734.1,1568.9 L738.4,1563.0 L742.6,1557.1 L746.8,1551.1 L751.0,1545.2 L755.2,1539.3 L759.4,1533.4 L763.6,1527.5 L767.8,1521.6 L772.0,1515.7 L776.3,1509.8 L780.5,1503.9 L784.7,1498.0 L788.9,1492.1 L793.2,1486.2 L797.4,1480.3 L801.6,1474.5 L805.9,1468.6 L810.1,1462.7 L814.3,1456.8 L818.6,1450.9 L822.8,1445.1 L827.1,1439.2 L831.4,1433.3 L835.6,1427.4 L839.9,1421.6 L844.2,1415.7 L848.4,1409.9 L852.7,1404.0 L857.0,1398.2 L861.3,1392.3 L865.6,1386.5 L869.9,1380.7 L874.2,1374.8 L878.5,1369.0 L882.9,1363.2 L887.2,1357.4 L891.5,1351.6 L895.9,1345.8 L900.2,1340.0 L904.6,1334.2 L909.0,1328.4 L913.4,1322.6 L917.7,1316.9 L922.1,1311.1 L926.5,1305.3 L931.0,1299.6 L935.4,1293.8 L939.8,1288.1 L944.2,1282.4 L948.7,1276.6 L953.2,1270.9 L957.6,1265.2 L962.1,1259.5 L966.6,1253.8 L971.1,1248.1 L975.6,1242.5 L980.1,1236.8 L984.7,1231.1 L989.2,1225.5 L993.8,1219.8 L998.3,1214.2 L1002.9,1208.6 L1007.5,1202.9 L1012.1,1197.3 L1016.7,1191.7 L1021.3,1186.1 L1026.0,1180.6 L1030.6,1175.0 L1035.3,1169.4 L1040.0,1163.9 L1044.7,1158.3 L1049.4,1152.8 L1054.1,1147.3 L1058.8,1141.8 L1063.6,1136.3 L1068.4,1130.8 L1073.1,1125.3 L1077.9,1119.8 L1082.7,1114.4 L1087.6,1108.9 L1092.4,1103.5 L1091.7,1099.5 L1091.0,1095.6 L1090.4,1091.6 L1089.8,1087.6 L1089.1,1083.6 L1088.6,1079.7 L1088.0,1075.7 L1087.4,1071.7 L1086.9,1067.7 L1086.4,1063.7 L1085.9,1059.8 L1085.5,1055.8 L1085.0,1051.8 L1084.6,1047.8 L1084.2,1043.8 L1083.8,1039.8 L1083.4,1035.8 L1083.1,1031.8 L1082.8,1027.8 L1082.5,1023.8 L1082.2,1019.9 L1081.9,1015.9 L1081.7,1011.9 L1081.5,1007.8 L1081.3,1003.8 L1081.1,999.8 L1080.9,995.8 L1080.8,991.8 L1080.7,987.8 L1080.6,983.8 L1080.5,979.8 L1080.5,975.8 L1080.4,971.8 L1080.4,967.7 L1080.4,963.7 L1080.5,959.7 L1080.5,955.7 L1080.6,951.7 L1080.7,947.6 L1080.8,943.6Z"/>
<path fill="#dfe6f1" d="M905.9,455.0 L903.9,457.5 L902.0,460.1 L900.0,462.7 L898.1,465.3 L896.2,467.8 L894.2,470.4 L892.3,473.0 L890.4,475.6 L888.5,478.2 L886.5,480.8 L884.6,483.4 L882.7,486.0 L880.8,488.6 L878.9,491.2 L877.0,493.8 L875.2,496.4 L873.3,499.0 L871.4,501.7 L869.5,504.3 L867.6,506.9 L865.8,509.5 L863.9,512.2 L862.0,514.8 L860.2,517.4 L858.3,520.1 L856.5,522.7 L854.6,525.4 L852.8,528.0 L851.0,530.7 L849.1,533.3 L847.3,536.0 L845.5,538.6 L843.6,541.3 L841.8,544.0 L840.0,546.6 L838.2,549.3 L836.4,552.0 L834.6,554.6 L832.8,557.3 L831.0,560.0 L827.5,567.7 L824.0,575.4 L820.5,583.0 L816.9,590.7 L813.4,598.4 L809.9,606.0 L806.3,613.7 L802.8,621.4 L799.2,629.0 L795.7,636.7 L792.1,644.4 L788.6,652.0 L785.0,659.7 L781.4,667.3 L777.8,675.0 L774.2,682.6 L770.6,690.3 L767.0,697.9 L763.4,705.6 L759.8,713.2 L756.2,720.9 L752.6,728.5 L749.0,736.1 L745.3,743.8 L741.7,751.4 L738.0,759.0 L734.4,766.6 L730.7,774.3 L727.1,781.9 L723.4,789.5 L719.7,797.1 L716.0,804.7 L712.4,812.3 L708.7,819.9 L705.0,827.5 L701.3,835.1 L697.5,842.7 L693.8,850.3 L690.1,857.9 L686.4,865.5 L682.6,873.1 L678.9,880.6 L675.1,888.2 L671.4,895.8 L667.6,903.4 L663.8,910.9 L660.0,918.5 L656.2,926.1 L652.5,933.6 L648.6,941.2 L644.8,948.7 L641.0,956.3 L637.2,963.8 L633.4,971.3 L629.5,978.9 L625.7,986.4 L621.8,993.9 L618.0,1001.4 L614.1,1009.0 L610.2,1016.5 L606.3,1024.0 L602.5,1031.5 L598.6,1039.0 L594.6,1046.5 L590.7,1054.0 L586.8,1061.5 L582.9,1069.0 L578.9,1076.4 L575.0,1083.9 L571.0,1091.4 L567.1,1098.9 L563.1,1106.3 L559.1,1113.8 L555.1,1121.2 L551.1,1128.7 L547.1,1136.1 L543.1,1143.6 L539.1,1151.0 L535.1,1158.4 L531.0,1165.9 L527.0,1173.3 L523.0,1180.7 L518.9,1188.1 L514.8,1195.5 L510.7,1202.9 L506.6,1210.3 L502.6,1217.7 L498.4,1225.1 L494.3,1232.5 L490.2,1239.9 L486.1,1247.2 L481.9,1254.6 L477.8,1262.0 L473.6,1269.3 L469.4,1276.7 L465.3,1284.0 L461.1,1291.4 L456.9,1298.7 L452.7,1306.0 L448.5,1313.3 L444.2,1320.7 L440.0,1328.0 L435.8,1335.3 L431.5,1342.6 L427.2,1349.9 L423.0,1357.2 L418.7,1364.4 L414.4,1371.7 L410.1,1379.0 L405.8,1386.3 L401.4,1393.5 L397.1,1400.8 L392.8,1408.0 L388.4,1415.3 L384.1,1422.5 L379.7,1429.7 L375.3,1436.9 L370.9,1444.2 L366.5,1451.4 L362.1,1458.6 L357.7,1465.8 L353.2,1473.0 L348.8,1480.1 L344.3,1487.3 L339.9,1494.5 L335.4,1501.7 L330.9,1508.8 L326.4,1516.0 L321.9,1523.1 L317.4,1530.2 L312.8,1537.4 L308.3,1544.5 L303.7,1551.6 L299.2,1558.7 L294.6,1565.8 L290.0,1572.9 L285.4,1580.0 L280.8,1587.1 L276.2,1594.2 L271.6,1601.2 L266.9,1608.3 L262.3,1615.3 L257.6,1622.4 L252.9,1629.4 L248.2,1636.5 L243.5,1643.5 L238.8,1650.5 L234.1,1657.5 L229.4,1664.5 L224.6,1671.5 L219.9,1678.5 L215.1,1685.5 L210.3,1692.4 L205.5,1699.4 L200.7,1706.3 L195.9,1713.3 L191.1,1720.2 L186.2,1727.2 L181.4,1734.1 L176.5,1741.0 L176.5,1790.8 L178.6,1787.6 L180.8,1784.4 L182.9,1781.2 L185.1,1778.0 L187.2,1774.8 L189.4,1771.6 L191.5,1768.4 L193.6,1765.1 L195.8,1761.9 L197.9,1758.7 L200.0,1755.5 L202.2,1752.3 L204.3,1749.1 L206.4,1745.9 L208.6,1742.6 L210.7,1739.4 L212.8,1736.2 L214.9,1733.0 L217.0,1729.8 L219.2,1726.5 L221.3,1723.3 L223.4,1720.1 L225.5,1716.9 L227.6,1713.6 L229.7,1710.4 L231.8,1707.2 L233.9,1703.9 L236.0,1700.7 L238.1,1697.5 L240.3,1694.3 L242.4,1691.0 L244.5,1687.8 L246.5,1684.5 L248.6,1681.3 L250.7,1678.1 L252.8,1674.8 L254.9,1671.6 L257.0,1668.3 L259.1,1665.1 L261.2,1661.9 L263.3,1658.6 L265.4,1655.4 L267.4,1652.1 L269.5,1648.9 L271.6,1645.6 L273.7,1642.4 L275.8,1639.1 L277.8,1635.9 L279.9,1632.6 L282.0,1629.4 L284.0,1626.1 L286.1,1622.9 L288.2,1619.6 L290.2,1616.3 L292.3,1613.1 L294.4,1609.8 L296.4,1606.6 L298.5,1603.3 L300.5,1600.0 L302.6,1596.8 L304.7,1593.5 L306.7,1590.2 L308.8,1587.0 L310.8,1583.7 L312.9,1580.4 L314.9,1577.2 L316.9,1573.9 L319.0,1570.6 L321.0,1567.4 L323.1,1564.1 L325.1,1560.8 L327.1,1557.5 L329.2,1554.3 L331.2,1551.0 L333.2,1547.7 L335.3,1544.4 L337.3,1541.1 L339.3,1537.9 L341.4,1534.6 L343.4,1531.3 L345.4,1528.0 L347.4,1524.7 L349.5,1521.4 L351.5,1518.2 L353.5,1514.9 L355.5,1511.6 L357.5,1508.3 L359.5,1505.0 L361.5,1501.7 L363.6,1498.4 L365.6,1495.1 L367.6,1491.8 L369.6,1488.5 L371.6,1485.2 L373.6,1481.9 L375.6,1478.6 L377.6,1475.3 L379.6,1472.0 L381.6,1468.7 L383.6,1465.4 L385.6,1462.1 L387.5,1458.8 L389.5,1455.5 L391.5,1452.2 L393.5,1448.9 L395.5,1445.6 L397.5,1442.3 L399.5,1439.0 L401.4,1435.7 L403.4,1432.3 L405.4,1429.0 L407.4,1425.7 L409.3,1422.4 L411.3,1419.1 L413.3,1415.8 L415.3,1412.5 L417.2,1409.1 L419.2,1405.8 L421.2,1402.5 L423.1,1399.2 L425.1,1395.9 L427.0,1392.5 L429.0,1389.2 L431.0,1385.9 L432.9,1382.6 L434.9,1379.2 L436.8,1375.9 L438.8,1372.6 L440.7,1369.2 L442.7,1365.9 L444.6,1362.6 L446.6,1359.3 L448.5,1355.9 L450.4,1352.6 L452.4,1349.3 L454.3,1345.9 L456.3,1342.6 L458.2,1339.2 L460.1,1335.9 L462.1,1332.6 L464.0,1329.2 L465.9,1325.9 L467.9,1322.5 L469.8,1319.2 L471.7,1315.9 L473.6,1312.5 L475.5,1309.2 L477.5,1305.8 L479.4,1302.5 L481.3,1299.1 L483.2,1295.8 L485.1,1292.4 L487.0,1289.1 L489.0,1285.7 L490.9,1282.4 L492.8,1279.0 L494.7,1275.7 L496.6,1272.3 L498.5,1268.9 L500.4,1265.6 L502.3,1262.2 L504.2,1258.9 L506.1,1255.5 L508.0,1252.1 L509.9,1248.8 L511.8,1245.4 L513.7,1242.1 L515.6,1238.7 L517.4,1235.3 L519.3,1232.0 L521.2,1228.6 L523.1,1225.2 L525.0,1221.9 L526.9,1218.5 L528.7,1215.1 L530.6,1211.8 L532.5,1208.4 L534.4,1205.0 L536.2,1201.6 L538.1,1198.3 L540.0,1194.9 L541.9,1191.5 L543.7,1188.1 L545.6,1184.8 L547.5,1181.4 L549.3,1178.0 L551.2,1174.6 L553.0,1171.2 L554.9,1167.9 L556.8,1164.5 L558.6,1161.1 L560.5,1157.7 L562.3,1154.3 L564.2,1150.9 L566.0,1147.5 L567.9,1144.2 L569.7,1140.8 L571.6,1137.4 L573.4,1134.0 L575.2,1130.6 L577.1,1127.2 L578.9,1123.8 L580.8,1120.4 L582.6,1117.0 L584.4,1113.6 L586.3,1110.2 L588.1,1106.8 L589.9,1103.4 L591.7,1100.0 L593.6,1096.6 L595.4,1093.2 L597.2,1089.8 L599.0,1086.4 L600.9,1083.0 L602.7,1079.6 L604.5,1076.2 L606.3,1072.8 L608.1,1069.4 L609.9,1066.0 L611.8,1062.6 L613.6,1059.2 L615.4,1055.8 L617.2,1052.4 L619.0,1049.0 L620.8,1045.5 L622.6,1042.1 L624.4,1038.7 L626.2,1035.3 L628.0,1031.9 L629.8,1028.5 L631.6,1025.1 L633.4,1021.6 L635.2,1018.2 L637.0,1014.8 L638.7,1011.4 L640.5,1008.0 L642.3,1004.5 L644.1,1001.1 L645.9,997.7 L647.7,994.3 L649.5,990.9 L651.2,987.4 L653.0,984.0 L654.8,980.6 L656.6,977.1 L658.3,973.7 L660.1,970.3 L661.9,966.9 L663.6,963.4 L665.4,960.0 L667.2,956.6 L668.9,953.1 L670.7,949.7 L672.5,946.3 L674.2,942.8 L676.0,939.4 L677.7,936.0 L679.5,932.5 L681.2,929.1 L683.0,925.6 L684.7,922.2 L686.5,918.8 L688.2,915.3 L690.0,911.9 L691.7,908.4 L693.5,905.0 L695.2,901.6 L696.9,898.1 L698.7,894.7 L700.4,891.2 L702.2,887.8 L703.9,884.3 L705.6,880.9 L707.3,877.4 L709.1,874.0 L710.8,870.5 L712.5,867.1 L714.3,863.6 L716.0,860.2 L717.7,856.7 L719.4,853.3 L721.1,849.8 L722.9,846.3 L724.6,842.9 L726.3,839.4 L728.0,836.0 L729.7,832.5 L731.4,829.1 L733.1,825.6 L734.8,822.1 L736.5,818.7 L738.2,815.2 L739.9,811.8 L741.7,808.3 L743.4,804.8 L745.0,801.4 L746.7,797.9 L748.4,794.4 L750.1,791.0 L751.8,787.5 L753.5,784.0 L755.2,780.6 L756.9,777.1 L758.6,773.6 L760.3,770.1 L761.9,766.7 L763.6,763.2 L765.3,759.7 L767.0,756.2 L768.7,752.8 L770.3,749.3 L772.0,745.8 L773.7,742.3 L775.4,738.9 L777.0,735.4 L778.7,731.9 L780.4,728.4 L782.0,724.9 L783.7,721.5 L785.4,718.0 L787.0,714.5 L788.7,711.0 L790.3,707.5 L792.0,704.0 L793.6,700.6 L795.3,697.1 L797.0,693.6 L798.6,690.1 L800.3,686.6 L801.9,683.1 L803.5,679.6 L805.2,676.1 L806.8,672.7 L808.5,669.2 L810.1,665.7 L811.8,662.2 L813.4,658.7 L815.0,655.2 L816.7,651.7 L818.3,648.2 L819.9,644.7 L821.6,641.2 L823.2,637.7 L824.8,634.2 L826.4,630.7 L828.1,627.2 L829.7,623.7 L831.3,620.2 L832.9,616.7 L834.5,613.2 L836.2,609.7 L837.8,606.2 L839.4,602.7 L841.0,599.2 L842.6,595.7 L844.2,592.2 L845.8,588.7 L847.4,585.2 L849.0,581.7 L850.6,578.1 L852.3,574.6 L853.9,571.1 L855.5,567.6 L857.0,564.1 L858.6,560.6 L860.2,557.1 L861.8,553.6 L863.4,550.1 L865.0,546.5 L866.6,543.0 L868.2,539.5 L869.8,536.0 L871.4,532.5 L872.9,529.0 L874.5,525.4 L876.1,521.9 L877.7,518.4 L879.3,514.9 L880.8,511.4 L882.4,507.8 L884.0,504.3 L885.6,500.8 L887.1,497.3 L888.7,493.8 L890.3,490.2 L891.8,486.7 L893.4,483.2 L895.0,479.7 L896.5,476.1 L898.1,472.6 L899.6,469.1 L901.2,465.5 L902.8,462.0 L904.3,458.5 L905.9,455.0Z"/>
<path fill="#dfe6f1" d="M1190.2,1331.8 L1187.4,1350.6 L1184.5,1369.3 L1181.6,1388.1 L1178.6,1406.8 L1175.6,1425.5 L1172.5,1444.2 L1169.4,1462.9 L1166.2,1481.6 L1162.9,1500.2 L1159.5,1518.9 L1156.1,1537.5 L1152.6,1556.1 L1149.0,1574.6 L1145.3,1593.2 L1141.5,1611.7 L1137.6,1630.2 L1133.6,1648.6 L1129.4,1667.1 L1125.2,1685.5 L1120.9,1703.9 L1116.5,1722.2 L1111.9,1740.6 L1107.2,1758.9 L1102.4,1777.1 L1097.4,1795.3 L1092.3,1813.5 L1087.1,1831.7 L1081.7,1849.8 L1076.1,1867.9 L1070.5,1885.9 L1064.6,1903.9 L1058.6,1921.9 L1052.5,1939.8 L1046.1,1957.7 L1039.6,1975.5 L1032.9,1993.3 L1026.1,2011.1 L1019.0,2028.7 L1011.8,2046.4 L1004.4,2064.0 L1015.4,2064.0 L1022.0,2046.2 L1028.4,2028.4 L1034.7,2010.6 L1040.9,1992.7 L1047.0,1974.8 L1052.9,1956.9 L1058.7,1938.9 L1064.4,1920.9 L1070.0,1902.9 L1075.5,1884.9 L1080.9,1866.8 L1086.1,1848.7 L1091.2,1830.6 L1096.2,1812.4 L1101.1,1794.2 L1105.9,1776.0 L1110.6,1757.8 L1115.1,1739.5 L1119.6,1721.3 L1124.0,1703.0 L1128.2,1684.6 L1132.3,1666.3 L1136.4,1647.9 L1140.3,1629.5 L1144.2,1611.0 L1147.9,1592.6 L1151.5,1574.1 L1155.1,1555.6 L1158.5,1537.1 L1161.8,1518.5 L1165.1,1499.9 L1168.2,1481.3 L1171.3,1462.7 L1174.3,1444.1 L1177.1,1425.4 L1179.9,1406.7 L1182.6,1388.0 L1185.2,1369.3 L1187.8,1350.6Z"/>
</g>
<g fill="none" stroke="#4d525c" stroke-width="1.15" stroke-linejoin="round" stroke-linecap="butt">
<path d="M402.7,128.5 L402.7,139.7 L402.7,151.0 L402.7,162.2 L402.7,173.5 L402.8,184.7 L402.8,195.9 L402.9,207.2 L403.0,218.4 L403.1,229.6 L403.3,240.9 L403.4,252.1 L403.5,263.3 L403.7,274.6 L403.8,285.8 L404.0,297.1 L404.1,308.3 L404.3,319.5 L404.4,330.8 L404.6,342.0 L404.7,353.2 L404.9,364.5 L405.0,375.7 L405.1,387.0 L405.3,398.2 L405.4,409.4 L405.5,420.7 L405.6,431.9 L405.7,443.1 L405.7,454.4 L405.8,465.6 L405.8,476.9 L405.8,488.1 L405.8,499.3 L405.8,510.6 L405.7,521.8 L405.6,533.0 L405.5,544.3 L405.4,555.5 L405.2,566.8 L405.0,578.0 L403.7,593.2 L402.4,608.4 L401.1,623.6 L399.8,638.8 L398.6,654.1 L397.4,669.3 L396.2,684.5 L395.0,699.7 L393.8,714.9 L392.6,730.1 L391.5,745.4 L390.3,760.6 L389.2,775.8 L388.1,791.0 L386.9,806.3 L385.8,821.5 L384.7,836.7 L383.5,851.9 L382.4,867.1 L381.3,882.4 L380.1,897.6 L379.0,912.8 L377.8,928.0 L376.6,943.2 L375.4,958.5 L374.2,973.7 L373.0,988.9 L371.7,1004.1 L370.5,1019.3 L369.2,1034.5 L367.9,1049.7 L366.5,1064.9 L365.2,1080.1 L363.8,1095.4 L362.3,1110.5 L360.9,1125.7 L359.4,1140.9 L357.9,1156.1 L356.3,1171.3 L354.7,1186.5"/>
<path d="M453.6,128.5 L405.0,578.0"/>
<path d="M405.0,578.0 L407.0,580.7 L409.0,583.3 L410.9,586.0 L412.9,588.7 L414.9,591.3 L416.9,593.9 L419.0,596.6 L421.0,599.2 L423.0,601.8 L425.0,604.5 L427.1,607.1 L429.1,609.7 L431.2,612.3 L433.2,614.9 L435.3,617.5 L437.3,620.1 L439.4,622.7 L441.5,625.2 L443.6,627.8 L445.7,630.4 L447.8,632.9 L449.9,635.5 L452.0,638.0 L454.1,640.6 L456.2,643.1 L458.4,645.6 L460.5,648.1 L462.6,650.7 L464.8,653.2 L467.0,655.7 L469.1,658.2 L471.3,660.7 L473.5,663.1 L475.6,665.6 L477.8,668.1 L480.0,670.6 L482.2,673.0 L484.4,675.5 L486.7,677.9 L488.9,680.4 L491.1,682.8 L493.3,685.2 L495.6,687.6 L497.8,690.1 L500.1,692.5 L502.4,694.9 L504.6,697.3 L506.9,699.6 L509.2,702.0 L511.5,704.4 L513.8,706.8 L516.1,709.1 L518.4,711.5 L520.7,713.8 L523.0,716.2 L525.4,718.5 L527.7,720.8 L530.0,723.2 L532.4,725.5 L534.8,727.8 L537.1,730.1 L539.5,732.4 L541.9,734.7 L544.3,736.9 L546.7,739.2 L549.1,741.5 L551.5,743.7 L553.9,746.0 L556.3,748.2 L558.7,750.5 L561.2,752.7 L563.6,754.9 L566.1,757.1 L568.5,759.3 L571.0,761.5 L573.5,763.7 L576.0,765.9 L578.5,768.1 L580.9,770.3 L583.5,772.4 L586.0,774.6 L588.5,776.7 L591.0,778.9 L593.5,781.0 L596.1,783.1 L598.6,785.3 L601.2,787.4 L603.7,789.5 L606.3,791.6 L608.9,793.7 L611.5,795.7 L614.1,797.8 L616.7,799.9 L619.3,801.9 L621.9,804.0 L624.5,806.0 L627.2,808.0 L629.8,810.1 L632.4,812.1 L635.1,814.1"/>
<path d="M635.1,814.1 L627.0,826.5 L618.7,838.9 L610.3,851.2 L601.9,863.4 L593.3,875.5 L584.6,887.6 L575.9,899.6 L567.1,911.5 L558.2,923.4 L549.2,935.3 L540.2,947.1 L531.1,958.9 L522.1,970.6 L512.9,982.4 L503.8,994.1 L494.6,1005.8 L485.4,1017.5 L476.3,1029.2 L467.1,1040.9 L457.9,1052.6 L448.8,1064.3 L439.7,1076.1 L430.6,1087.8 L421.6,1099.6 L412.6,1111.5 L403.6,1123.3 L394.8,1135.3 L386.0,1147.2 L377.3,1159.3 L368.6,1171.3 L360.1,1183.5 L351.7,1195.7 L343.3,1208.0 L335.1,1220.4 L327.0,1232.9 L319.1,1245.5 L311.3,1258.1 L303.6,1270.9 L296.1,1283.8 L288.7,1296.8"/>
<path d="M288.7,1296.8 L286.2,1303.8 L283.7,1310.9 L281.2,1317.9 L278.6,1324.9 L276.1,1331.9 L273.5,1338.9 L270.9,1345.9 L268.3,1352.9 L265.7,1359.8 L263.0,1366.8 L260.4,1373.8 L257.7,1380.7 L255.0,1387.7 L252.3,1394.6 L249.6,1401.6 L246.9,1408.5 L244.1,1415.4 L241.4,1422.4 L238.6,1429.3 L235.8,1436.2 L233.0,1443.1 L230.1,1450.0 L227.3,1456.9 L224.4,1463.8 L221.6,1470.6 L218.7,1477.5 L215.8,1484.4 L212.8,1491.2 L209.9,1498.1 L206.9,1504.9 L204.0,1511.8 L201.0,1518.6 L198.0,1525.4 L195.0,1532.2 L191.9,1539.0 L188.9,1545.8 L185.8,1552.6 L182.7,1559.4 L179.6,1566.2 L176.5,1573.0"/>
<path d="M995.6,189.0 L987.3,205.0 L978.9,221.0 L970.6,237.0 L962.2,253.0 L953.8,269.0 L945.4,285.0 L936.9,300.9 L928.4,316.9 L919.9,332.8 L911.4,348.7 L902.8,364.5 L894.2,380.4 L885.5,396.2 L876.9,412.1 L868.1,427.9 L859.4,443.6 L850.6,459.4 L841.8,475.1 L832.9,490.8 L824.0,506.5 L815.0,522.2 L806.0,537.8 L797.0,553.4 L787.9,569.0 L778.8,584.6 L769.6,600.1 L760.3,615.6 L751.0,631.1 L741.7,646.5 L732.3,661.9 L722.8,677.3 L713.3,692.6 L703.8,707.9 L694.1,723.2 L684.5,738.4 L674.7,753.6 L664.9,768.8 L655.0,783.9 L645.1,799.0 L635.1,814.1"/>
<path d="M1024.5,128.5 L1019.4,139.2 L1014.3,149.8 L1009.3,160.5 L1004.3,171.3 L999.4,182.0 L994.5,192.8 L989.6,203.6 L984.8,214.3 L980.0,225.2 L975.2,236.0 L970.5,246.8 L965.8,257.7 L961.1,268.5 L956.4,279.4 L951.8,290.2 L947.1,301.1 L942.5,312.0 L937.8,322.9 L933.2,333.7 L928.6,344.6 L923.9,355.5 L919.3,366.4 L914.6,377.2 L910.0,388.1 L905.3,399.0 L900.6,409.8 L895.8,420.6 L891.1,431.5 L886.3,442.3 L881.5,453.1 L876.7,463.9 L871.8,474.6 L866.8,485.4 L861.9,496.1 L856.9,506.8 L851.8,517.5 L846.7,528.2 L841.5,538.8 L836.3,549.4 L831.0,560.0"/>
<path d="M831.0,560.0 L827.5,567.7 L824.0,575.4 L820.5,583.0 L816.9,590.7 L813.4,598.4 L809.9,606.0 L806.3,613.7 L802.8,621.4 L799.2,629.0 L795.7,636.7 L792.1,644.4 L788.6,652.0 L785.0,659.7 L781.4,667.3 L777.8,675.0 L774.2,682.6 L770.6,690.3 L767.0,697.9 L763.4,705.6 L759.8,713.2 L756.2,720.9 L752.6,728.5 L749.0,736.1 L745.3,743.8 L741.7,751.4 L738.0,759.0 L734.4,766.6 L730.7,774.3 L727.1,781.9 L723.4,789.5 L719.7,797.1 L716.0,804.7 L712.4,812.3 L708.7,819.9 L705.0,827.5 L701.3,835.1 L697.5,842.7 L693.8,850.3 L690.1,857.9 L686.4,865.5 L682.6,873.1 L678.9,880.6 L675.1,888.2 L671.4,895.8 L667.6,903.4 L663.8,910.9 L660.0,918.5 L656.2,926.1 L652.5,933.6 L648.6,941.2 L644.8,948.7 L641.0,956.3 L637.2,963.8 L633.4,971.3 L629.5,978.9 L625.7,986.4 L621.8,993.9 L618.0,1001.4 L614.1,1009.0 L610.2,1016.5 L606.3,1024.0 L602.5,1031.5 L598.6,1039.0 L594.6,1046.5 L590.7,1054.0 L586.8,1061.5 L582.9,1069.0 L578.9,1076.4 L575.0,1083.9 L571.0,1091.4 L567.1,1098.9 L563.1,1106.3 L559.1,1113.8 L555.1,1121.2 L551.1,1128.7 L547.1,1136.1 L543.1,1143.6 L539.1,1151.0 L535.1,1158.4 L531.0,1165.9 L527.0,1173.3 L523.0,1180.7 L518.9,1188.1 L514.8,1195.5 L510.7,1202.9 L506.6,1210.3 L502.6,1217.7 L498.4,1225.1 L494.3,1232.5 L490.2,1239.9 L486.1,1247.2 L481.9,1254.6 L477.8,1262.0 L473.6,1269.3 L469.4,1276.7 L465.3,1284.0 L461.1,1291.4 L456.9,1298.7 L452.7,1306.0 L448.5,1313.3 L444.2,1320.7 L440.0,1328.0 L435.8,1335.3 L431.5,1342.6 L427.2,1349.9 L423.0,1357.2 L418.7,1364.4 L414.4,1371.7 L410.1,1379.0 L405.8,1386.3 L401.4,1393.5 L397.1,1400.8 L392.8,1408.0 L388.4,1415.3 L384.1,1422.5 L379.7,1429.7 L375.3,1436.9 L370.9,1444.2 L366.5,1451.4 L362.1,1458.6 L357.7,1465.8 L353.2,1473.0 L348.8,1480.1 L344.3,1487.3 L339.9,1494.5 L335.4,1501.7 L330.9,1508.8 L326.4,1516.0 L321.9,1523.1 L317.4,1530.2 L312.8,1537.4 L308.3,1544.5 L303.7,1551.6 L299.2,1558.7 L294.6,1565.8 L290.0,1572.9 L285.4,1580.0 L280.8,1587.1 L276.2,1594.2 L271.6,1601.2 L266.9,1608.3 L262.3,1615.3 L257.6,1622.4 L252.9,1629.4 L248.2,1636.5 L243.5,1643.5 L238.8,1650.5 L234.1,1657.5 L229.4,1664.5 L224.6,1671.5 L219.9,1678.5 L215.1,1685.5 L210.3,1692.4 L205.5,1699.4 L200.7,1706.3 L195.9,1713.3 L191.1,1720.2 L186.2,1727.2 L181.4,1734.1 L176.5,1741.0"/>
<path d="M1039.6,128.5 L913.6,437.3"/>
<path d="M913.6,437.3 L912.1,440.8 L910.5,444.4 L909.0,447.9 L907.4,451.4 L905.9,455.0 L904.3,458.5 L902.8,462.0 L901.2,465.5 L899.6,469.1 L898.1,472.6 L896.5,476.1 L895.0,479.7 L893.4,483.2 L891.8,486.7 L890.3,490.2 L888.7,493.8 L887.1,497.3 L885.6,500.8 L884.0,504.3 L882.4,507.8 L880.8,511.4 L879.3,514.9 L877.7,518.4 L876.1,521.9 L874.5,525.4 L872.9,529.0 L871.4,532.5 L869.8,536.0 L868.2,539.5 L866.6,543.0 L865.0,546.5 L863.4,550.1 L861.8,553.6"/>
<path d="M861.8,553.6 L860.2,557.1 L858.6,560.6 L857.0,564.1 L855.5,567.6 L853.9,571.1 L852.3,574.6 L850.6,578.1 L849.0,581.7 L847.4,585.2 L845.8,588.7 L844.2,592.2 L842.6,595.7 L841.0,599.2 L839.4,602.7 L837.8,606.2 L836.2,609.7 L834.5,613.2 L832.9,616.7 L831.3,620.2 L829.7,623.7 L828.1,627.2 L826.4,630.7 L824.8,634.2 L823.2,637.7 L821.6,641.2 L819.9,644.7 L818.3,648.2 L816.7,651.7 L815.0,655.2 L813.4,658.7 L811.8,662.2 L810.1,665.7 L808.5,669.2 L806.8,672.7 L805.2,676.1 L803.5,679.6 L801.9,683.1 L800.3,686.6 L798.6,690.1 L797.0,693.6 L795.3,697.1 L793.6,700.6 L792.0,704.0 L790.3,707.5 L788.7,711.0 L787.0,714.5 L785.4,718.0 L783.7,721.5 L782.0,724.9 L780.4,728.4 L778.7,731.9 L777.0,735.4 L775.4,738.9 L773.7,742.3 L772.0,745.8 L770.3,749.3 L768.7,752.8 L767.0,756.2 L765.3,759.7 L763.6,763.2 L761.9,766.7 L760.3,770.1 L758.6,773.6 L756.9,777.1 L755.2,780.6 L753.5,784.0 L751.8,787.5 L750.1,791.0 L748.4,794.4 L746.7,797.9 L745.0,801.4 L743.4,804.8 L741.7,808.3 L739.9,811.8 L738.2,815.2 L736.5,818.7 L734.8,822.1 L733.1,825.6 L731.4,829.1 L729.7,832.5 L728.0,836.0 L726.3,839.4 L724.6,842.9 L722.9,846.3 L721.1,849.8 L719.4,853.3 L717.7,856.7 L716.0,860.2 L714.3,863.6 L712.5,867.1 L710.8,870.5 L709.1,874.0 L707.3,877.4 L705.6,880.9 L703.9,884.3 L702.2,887.8 L700.4,891.2 L698.7,894.7 L696.9,898.1 L695.2,901.6 L693.5,905.0 L691.7,908.4 L690.0,911.9 L688.2,915.3 L686.5,918.8 L684.7,922.2 L683.0,925.6 L681.2,929.1 L679.5,932.5 L677.7,936.0 L676.0,939.4 L674.2,942.8 L672.5,946.3 L670.7,949.7 L668.9,953.1 L667.2,956.6 L665.4,960.0 L663.6,963.4 L661.9,966.9 L660.1,970.3 L658.3,973.7 L656.6,977.1 L654.8,980.6 L653.0,984.0 L651.2,987.4 L649.5,990.9 L647.7,994.3 L645.9,997.7 L644.1,1001.1 L642.3,1004.5 L640.5,1008.0 L638.7,1011.4 L637.0,1014.8 L635.2,1018.2 L633.4,1021.6 L631.6,1025.1 L629.8,1028.5 L628.0,1031.9 L626.2,1035.3 L624.4,1038.7 L622.6,1042.1 L620.8,1045.5 L619.0,1049.0 L617.2,1052.4 L615.4,1055.8 L613.6,1059.2 L611.8,1062.6 L609.9,1066.0 L608.1,1069.4 L606.3,1072.8 L604.5,1076.2 L602.7,1079.6 L600.9,1083.0 L599.0,1086.4 L597.2,1089.8 L595.4,1093.2 L593.6,1096.6 L591.7,1100.0 L589.9,1103.4 L588.1,1106.8 L586.3,1110.2 L584.4,1113.6 L582.6,1117.0 L580.8,1120.4 L578.9,1123.8 L577.1,1127.2 L575.2,1130.6 L573.4,1134.0 L571.6,1137.4 L569.7,1140.8 L567.9,1144.2 L566.0,1147.5 L564.2,1150.9 L562.3,1154.3 L560.5,1157.7 L558.6,1161.1 L556.8,1164.5 L554.9,1167.9 L553.0,1171.2 L551.2,1174.6 L549.3,1178.0 L547.5,1181.4 L545.6,1184.8 L543.7,1188.1 L541.9,1191.5 L540.0,1194.9 L538.1,1198.3 L536.2,1201.6 L534.4,1205.0 L532.5,1208.4 L530.6,1211.8 L528.7,1215.1 L526.9,1218.5 L525.0,1221.9 L523.1,1225.2 L521.2,1228.6 L519.3,1232.0 L517.4,1235.3 L515.6,1238.7 L513.7,1242.1 L511.8,1245.4 L509.9,1248.8 L508.0,1252.1 L506.1,1255.5 L504.2,1258.9 L502.3,1262.2 L500.4,1265.6 L498.5,1268.9 L496.6,1272.3 L494.7,1275.7 L492.8,1279.0 L490.9,1282.4 L489.0,1285.7 L487.0,1289.1 L485.1,1292.4 L483.2,1295.8 L481.3,1299.1 L479.4,1302.5 L477.5,1305.8 L475.5,1309.2 L473.6,1312.5 L471.7,1315.9 L469.8,1319.2 L467.9,1322.5 L465.9,1325.9 L464.0,1329.2 L462.1,1332.6 L460.1,1335.9 L458.2,1339.2 L456.3,1342.6 L454.3,1345.9 L452.4,1349.3 L450.4,1352.6 L448.5,1355.9 L446.6,1359.3 L444.6,1362.6 L442.7,1365.9 L440.7,1369.2 L438.8,1372.6 L436.8,1375.9 L434.9,1379.2 L432.9,1382.6 L431.0,1385.9 L429.0,1389.2 L427.0,1392.5 L425.1,1395.9 L423.1,1399.2 L421.2,1402.5 L419.2,1405.8 L417.2,1409.1 L415.3,1412.5 L413.3,1415.8 L411.3,1419.1 L409.3,1422.4 L407.4,1425.7 L405.4,1429.0 L403.4,1432.3 L401.4,1435.7 L399.5,1439.0 L397.5,1442.3 L395.5,1445.6 L393.5,1448.9 L391.5,1452.2 L389.5,1455.5 L387.5,1458.8 L385.6,1462.1 L383.6,1465.4 L381.6,1468.7 L379.6,1472.0 L377.6,1475.3 L375.6,1478.6 L373.6,1481.9 L371.6,1485.2 L369.6,1488.5 L367.6,1491.8 L365.6,1495.1 L363.6,1498.4 L361.5,1501.7 L359.5,1505.0 L357.5,1508.3 L355.5,1511.6 L353.5,1514.9 L351.5,1518.2 L349.5,1521.4 L347.4,1524.7 L345.4,1528.0 L343.4,1531.3 L341.4,1534.6 L339.3,1537.9 L337.3,1541.1 L335.3,1544.4 L333.2,1547.7 L331.2,1551.0 L329.2,1554.3 L327.1,1557.5 L325.1,1560.8 L323.1,1564.1 L321.0,1567.4 L319.0,1570.6 L316.9,1573.9 L314.9,1577.2 L312.9,1580.4 L310.8,1583.7 L308.8,1587.0 L306.7,1590.2 L304.7,1593.5 L302.6,1596.8 L300.5,1600.0 L298.5,1603.3 L296.4,1606.6 L294.4,1609.8 L292.3,1613.1 L290.2,1616.3 L288.2,1619.6"/>
<path d="M288.2,1619.6 L286.1,1622.9 L284.0,1626.1 L282.0,1629.4 L279.9,1632.6 L277.8,1635.9 L275.8,1639.1 L273.7,1642.4 L271.6,1645.6 L269.5,1648.9 L267.4,1652.1 L265.4,1655.4 L263.3,1658.6 L261.2,1661.9 L259.1,1665.1 L257.0,1668.3 L254.9,1671.6 L252.8,1674.8 L250.7,1678.1 L248.6,1681.3 L246.5,1684.5 L244.5,1687.8 L242.4,1691.0 L240.3,1694.3 L238.1,1697.5 L236.0,1700.7 L233.9,1703.9 L231.8,1707.2 L229.7,1710.4 L227.6,1713.6 L225.5,1716.9 L223.4,1720.1 L221.3,1723.3 L219.2,1726.5 L217.0,1729.8 L214.9,1733.0 L212.8,1736.2 L210.7,1739.4 L208.6,1742.6 L206.4,1745.9 L204.3,1749.1 L202.2,1752.3 L200.0,1755.5 L197.9,1758.7 L195.8,1761.9 L193.6,1765.1 L191.5,1768.4 L189.4,1771.6 L187.2,1774.8 L185.1,1778.0 L182.9,1781.2 L180.8,1784.4 L178.6,1787.6 L176.5,1790.8"/>
<path d="M905.9,455.0 L903.9,457.5 L902.0,460.1 L900.0,462.7 L898.1,465.3 L896.2,467.8 L894.2,470.4 L892.3,473.0 L890.4,475.6 L888.5,478.2 L886.5,480.8 L884.6,483.4 L882.7,486.0 L880.8,488.6 L878.9,491.2 L877.0,493.8 L875.2,496.4 L873.3,499.0 L871.4,501.7 L869.5,504.3 L867.6,506.9 L865.8,509.5 L863.9,512.2 L862.0,514.8 L860.2,517.4 L858.3,520.1 L856.5,522.7 L854.6,525.4 L852.8,528.0 L851.0,530.7 L849.1,533.3 L847.3,536.0 L845.5,538.6 L843.6,541.3 L841.8,544.0 L840.0,546.6 L838.2,549.3 L836.4,552.0 L834.6,554.6 L832.8,557.3 L831.0,560.0"/>
<path d="M831.0,560.0 L826.2,566.4 L821.4,572.9 L816.6,579.3 L811.9,585.8 L807.2,592.3 L802.4,598.8 L797.7,605.3 L793.1,611.8 L788.4,618.3 L783.7,624.8 L779.0,631.4 L774.4,637.9 L769.7,644.4 L765.0,650.9 L760.4,657.5 L755.7,664.0 L751.0,670.5 L746.3,677.0 L741.6,683.5 L736.8,690.0 L732.1,696.4 L727.3,702.9 L722.5,709.3 L717.7,715.7 L712.8,722.1 L708.0,728.5 L703.0,734.8 L698.1,741.1 L693.1,747.4 L688.1,753.7 L683.0,759.9 L677.9,766.1 L672.7,772.2 L667.5,778.3 L662.3,784.4 L656.9,790.4 L651.6,796.4 L646.1,802.4 L640.7,808.3 L635.1,814.1"/>
<path d="M861.8,553.6 L843.5,612.3"/>
<path d="M843.5,612.3 L840.5,619.1 L837.6,625.8 L834.8,632.6 L831.9,639.3 L829.2,646.1 L826.4,652.9 L823.7,659.7 L821.1,666.5 L818.4,673.3 L815.8,680.1 L813.3,686.9 L810.8,693.8 L808.3,700.6 L805.8,707.4 L803.3,714.3 L800.9,721.1 L798.5,727.9 L796.1,734.8 L793.8,741.6 L791.4,748.5 L789.1,755.4 L786.8,762.2 L784.5,769.1 L782.2,776.0 L779.9,782.8 L777.6,789.7 L775.3,796.6 L773.1,803.5 L770.8,810.3 L768.5,817.2 L766.2,824.1 L764.0,831.0 L761.7,837.9 L759.4,844.8 L757.1,851.6 L754.7,858.5 L752.4,865.4 L750.1,872.3 L747.7,879.2 L745.3,886.0 L742.9,892.9 L740.5,899.8 L738.1,906.7 L735.6,913.5 L733.1,920.4 L730.6,927.3 L728.0,934.2 L725.5,941.0 L722.9,947.9 L720.2,954.7 L717.6,961.6 L714.9,968.4 L712.2,975.3 L709.5,982.1 L706.7,989.0 L704.0,995.8 L701.2,1002.6 L698.4,1009.5 L695.5,1016.3 L692.7,1023.1 L689.8,1029.9 L686.9,1036.7 L684.0,1043.5 L681.1,1050.3 L678.1,1057.0 L675.2,1063.8 L672.2,1070.6 L669.2,1077.3 L666.2,1084.1 L663.1,1090.8 L660.1,1097.6 L657.0,1104.3 L653.9,1111.0 L650.8,1117.7 L647.7,1124.4 L644.6,1131.1 L641.4,1137.8 L638.3,1144.5 L635.1,1151.1 L631.9,1157.8 L628.8,1164.4 L625.5,1171.1 L622.3,1177.7 L619.1,1184.3 L615.9,1190.9 L612.6,1197.5 L609.4,1204.0 L606.1,1210.6 L602.8,1217.1 L599.5,1223.7 L596.2,1230.2 L592.9,1236.7 L589.5,1243.2 L586.2,1249.7 L582.8,1256.1 L579.4,1262.6 L576.0,1269.0 L572.6,1275.4 L569.1,1281.8 L565.6,1288.2 L562.1,1294.5 L558.6,1300.8 L555.0,1307.2 L551.5,1313.4 L547.9,1319.7 L544.2,1326.0 L540.6,1332.2 L536.9,1338.4 L533.2,1344.6 L529.5,1350.8 L525.7,1356.9 L521.9,1363.0 L518.1,1369.1 L514.2,1375.2 L510.4,1381.2 L506.4,1387.2 L502.5,1393.2 L498.5,1399.2 L494.5,1405.1 L490.4,1411.0 L486.3,1416.9 L482.2,1422.8 L478.0,1428.6 L473.8,1434.4 L469.5,1440.1 L465.2,1445.9 L460.9,1451.6 L456.5,1457.3 L452.1,1462.9 L447.6,1468.5 L443.1,1474.1 L438.5,1479.6 L433.9,1485.1 L429.2,1490.6 L424.5,1496.1 L419.8,1501.5 L414.9,1506.8 L410.1,1512.2 L405.2,1517.5 L400.2,1522.7 L395.2,1528.0 L390.1,1533.2 L385.0,1538.3 L379.8,1543.4 L374.5,1548.5 L369.2,1553.5 L363.8,1558.5 L358.4,1563.5 L352.9,1568.4 L347.3,1573.3 L341.7,1578.1 L336.0,1582.9 L330.3,1587.6 L324.5,1592.3 L318.6,1597.0 L312.7,1601.6 L306.6,1606.2 L300.6,1610.7 L294.4,1615.2 L288.2,1619.6"/>
<path d="M288.2,1619.6 L287.1,1623.4 L286.0,1627.2 L284.9,1630.9 L283.7,1634.7 L282.6,1638.5 L281.5,1642.3 L280.4,1646.0 L279.3,1649.8 L278.2,1653.6 L277.0,1657.3 L275.9,1661.1 L274.8,1664.9 L273.6,1668.7 L272.5,1672.4 L271.4,1676.2 L270.2,1680.0 L269.1,1683.7 L268.0,1687.5 L266.8,1691.3 L265.7,1695.0 L264.5,1698.8 L263.4,1702.6 L262.2,1706.3 L261.1,1710.1 L259.9,1713.8 L258.8,1717.6 L257.6,1721.4 L256.5,1725.1 L255.3,1728.9 L254.1,1732.6 L253.0,1736.4 L251.8,1740.2 L250.6,1743.9 L249.5,1747.7 L248.3,1751.4 L247.1,1755.2 L245.9,1758.9 L244.8,1762.7 L243.6,1766.4 L242.4,1770.2 L241.7,1777.5 L241.1,1784.9 L240.4,1792.2 L239.7,1799.6 L239.1,1806.9 L238.4,1814.2 L237.8,1821.6 L237.2,1828.9 L236.5,1836.3 L235.9,1843.6 L235.3,1850.9 L234.6,1858.3 L234.0,1865.6 L233.4,1873.0 L232.8,1880.3 L232.2,1887.7 L231.6,1895.0 L231.0,1902.3 L230.4,1909.7 L229.8,1917.0 L229.2,1924.4 L228.6,1931.7 L228.0,1939.1 L227.4,1946.4 L226.8,1953.8 L226.3,1961.1 L225.7,1968.5 L225.1,1975.8 L224.6,1983.2 L224.0,1990.5 L223.5,1997.9 L222.9,2005.2 L222.4,2012.5 L221.9,2019.9 L221.3,2027.2 L220.8,2034.6 L220.3,2041.9 L219.7,2049.3 L219.2,2056.6 L218.7,2064.0"/>
<path d="M242.4,1770.2 L176.5,1866.5"/>
<path d="M913.6,437.3 L917.9,436.3 L923.4,434.9 L930.0,433.4 L937.3,431.6 L945.3,429.7 L953.7,427.7 L962.2,425.6 L970.7,423.6 L978.9,421.6 L986.7,419.7 L993.8,418.0 L1000.0,416.5 L1005.5,415.2 L1010.6,414.0 L1015.4,412.9 L1019.9,411.8 L1024.2,410.8 L1028.2,409.9 L1032.1,409.0 L1035.8,408.1 L1039.4,407.2 L1043.0,406.3 L1046.5,405.4 L1050.0,404.5 L1053.3,403.6 L1056.4,402.8 L1059.1,402.1 L1061.7,401.4 L1064.1,400.7 L1066.6,400.0 L1069.0,399.3 L1071.7,398.4 L1074.5,397.5 L1077.6,396.3 L1081.1,395.0 L1085.0,393.5 L1089.4,391.7 L1094.1,389.8 L1099.2,387.6 L1104.5,385.3 L1110.0,382.8 L1115.7,380.3 L1121.5,377.7 L1127.3,375.1 L1133.1,372.5 L1138.9,369.9 L1144.5,367.4 L1150.0,365.0 L1155.6,362.6 L1161.4,360.0 L1167.5,357.3 L1173.7,354.6 L1179.9,351.9 L1185.9,349.3 L1191.7,346.7 L1197.2,344.3 L1202.3,342.1 L1206.8,340.1 L1210.6,338.4 L1213.7,337.1"/>
<path d="M1213.7,337.1 L1222.1,333.4 L1230.5,329.7 L1238.9,325.9 L1247.3,322.1 L1255.7,318.4 L1264.1,314.6 L1272.5,310.8 L1280.9,307.0 L1289.3,303.2 L1297.7,299.4 L1306.1,295.6 L1314.6,291.8 L1323.0,288.1 L1331.4,284.3 L1339.8,280.6 L1348.3,276.9 L1356.8,273.3 L1365.2,269.6 L1373.7,266.0 L1382.2,262.5 L1390.7,259.0 L1399.3,255.6 L1407.8,252.2 L1416.4,248.8 L1425.0,245.5 L1433.6,242.3 L1442.3,239.2 L1451.0,236.1 L1459.7,233.1 L1468.4,230.2 L1477.1,227.3 L1485.9,224.6 L1494.7,221.9 L1503.6,219.3 L1512.5,216.8 L1521.4,214.5 L1530.3,212.2 L1539.3,210.0 L1548.3,208.0 L1557.4,206.0"/>
<path d="M843.5,612.3 L852.9,605.6 L862.3,598.9 L871.8,592.3 L881.2,585.7 L890.7,579.2 L900.3,572.7 L909.8,566.2 L919.4,559.7 L929.0,553.3 L938.5,546.9 L948.1,540.4 L957.7,534.0 L967.3,527.6 L976.9,521.1 L986.5,514.7 L996.1,508.2 L1005.6,501.8 L1015.2,495.3 L1024.7,488.7 L1034.2,482.2 L1043.6,475.6 L1053.1,468.9 L1062.5,462.3 L1071.8,455.5 L1081.1,448.7 L1090.4,441.9 L1099.6,435.0 L1108.8,428.0 L1117.9,420.9 L1127.0,413.8 L1136.0,406.6 L1144.9,399.2 L1153.8,391.8 L1162.6,384.4 L1171.3,376.8 L1180.0,369.1 L1188.5,361.2 L1197.0,353.3 L1205.4,345.3 L1213.7,337.1"/>
<path d="M1213.7,337.1 L1468.7,128.5"/>
<path d="M843.5,612.3 L1080.8,943.6"/>
<path d="M1080.8,943.6 L1086.2,940.6 L1091.7,937.6 L1097.1,934.5 L1102.4,931.4 L1107.8,928.3 L1113.1,925.2 L1118.4,922.0 L1123.7,918.8 L1129.0,915.6 L1134.2,912.3 L1139.4,909.0 L1144.6,905.7 L1149.8,902.4 L1155.0,899.0 L1160.2,895.7 L1165.3,892.2 L1170.4,888.8 L1175.5,885.4 L1180.6,881.9 L1185.6,878.4 L1190.7,874.8 L1195.7,871.3 L1200.7,867.7 L1205.7,864.2 L1210.7,860.5 L1215.7,856.9 L1220.7,853.3 L1225.6,849.6 L1230.5,845.9 L1235.5,842.2 L1240.4,838.5 L1245.3,834.8 L1250.2,831.1 L1255.0,827.3 L1259.9,823.5 L1264.7,819.8 L1269.6,816.0 L1274.4,812.1 L1279.3,808.3 L1284.1,804.5 L1288.9,800.6 L1293.7,796.8 L1298.5,792.9 L1303.3,789.0 L1308.0,785.2 L1312.8,781.3 L1317.6,777.4 L1322.4,773.5 L1327.1,769.5 L1331.9,765.6 L1336.6,761.7 L1341.4,757.8 L1346.1,753.8 L1350.8,749.9 L1355.6,745.9 L1360.3,742.0 L1365.0,738.0 L1369.8,734.1 L1374.5,730.1 L1379.2,726.2 L1384.0,722.2 L1388.7,718.2 L1393.4,714.3 L1398.2,710.3 L1402.9,706.4 L1407.6,702.4 L1412.4,698.5 L1417.1,694.5 L1421.8,690.6 L1426.6,686.6 L1431.3,682.7 L1436.1,678.8 L1440.8,674.9 L1445.6,670.9 L1450.4,667.0 L1455.1,663.1 L1459.9,659.2 L1464.7,655.3 L1469.5,651.5 L1474.3,647.6 L1479.1,643.7 L1483.9,639.9 L1488.7,636.0 L1493.5,632.2 L1498.4,628.4 L1503.2,624.6 L1508.1,620.8 L1512.9,617.0 L1517.8,613.3 L1522.7,609.5 L1527.6,605.8 L1532.5,602.1 L1537.5,598.4 L1542.4,594.7 L1547.3,591.0 L1552.3,587.4 L1557.3,583.8 L1562.3,580.2 L1567.3,576.6 L1577.2,573.1"/>
<path d="M1092.4,1103.5 L1097.3,1099.4 L1102.1,1095.2 L1107.0,1091.1 L1111.8,1086.9 L1116.7,1082.7 L1121.5,1078.6 L1126.3,1074.4 L1131.2,1070.2 L1136.0,1066.1 L1140.9,1061.9 L1145.7,1057.7 L1150.5,1053.5 L1155.3,1049.4 L1160.2,1045.2 L1165.0,1041.0 L1169.8,1036.8 L1174.6,1032.6 L1179.4,1028.4 L1184.2,1024.2 L1189.0,1020.0 L1193.8,1015.8 L1198.6,1011.6 L1203.4,1007.4 L1208.2,1003.1 L1213.0,998.9 L1217.8,994.7 L1222.6,990.5 L1227.4,986.3 L1232.2,982.0 L1236.9,977.8 L1241.7,973.6 L1246.5,969.3 L1251.3,965.1 L1256.0,960.8 L1260.8,956.6 L1265.6,952.3 L1270.3,948.1 L1275.1,943.8 L1279.8,939.6 L1284.6,935.3 L1289.4,931.1 L1294.1,926.8 L1298.9,922.5 L1303.6,918.3 L1308.4,914.0 L1313.1,909.7 L1317.8,905.5 L1322.6,901.2 L1327.3,896.9 L1332.0,892.6 L1336.8,888.3 L1341.5,884.0 L1346.2,879.8 L1351.0,875.5 L1355.7,871.2 L1360.4,866.9 L1365.1,862.6 L1369.8,858.3 L1374.6,854.0 L1379.3,849.7 L1384.0,845.4 L1388.7,841.1 L1393.4,836.7 L1398.1,832.4 L1402.8,828.1 L1407.5,823.8 L1412.2,819.5 L1416.9,815.2 L1421.6,810.8 L1426.3,806.5 L1431.0,802.2 L1435.7,797.9 L1440.4,793.5 L1445.1,789.2 L1449.8,784.9 L1454.5,780.5 L1459.2,776.2 L1463.8,771.9 L1468.5,767.5 L1473.2,763.2 L1477.9,758.8 L1482.6,754.5 L1487.2,750.1 L1491.9,745.8 L1496.6,741.4 L1501.2,737.1 L1505.9,732.7 L1510.6,728.4 L1515.3,724.0 L1519.9,719.7 L1524.6,715.3 L1529.2,710.9 L1533.9,706.6 L1538.6,702.2 L1543.2,697.8 L1547.9,693.5 L1552.5,689.1 L1557.2,684.7 L1561.8,680.4 L1566.5,676.0"/>
<path d="M1521.5,913.5 L1514.6,925.1 L1507.6,936.5 L1500.5,947.9 L1493.3,959.2 L1485.9,970.4 L1478.5,981.5 L1471.0,992.6 L1463.3,1003.6 L1455.6,1014.5 L1447.8,1025.3 L1439.9,1036.0 L1431.9,1046.7 L1423.8,1057.3 L1415.7,1067.9 L1407.4,1078.4 L1399.2,1088.9 L1390.8,1099.3 L1382.4,1109.7 L1374.0,1120.0 L1365.5,1130.3 L1356.9,1140.5 L1348.3,1150.7 L1339.6,1160.9 L1331.0,1171.0 L1322.3,1181.1 L1313.5,1191.2 L1304.7,1201.3 L1296.0,1211.4 L1287.2,1221.4 L1278.3,1231.4 L1269.5,1241.5 L1260.7,1251.5 L1251.8,1261.5 L1243.0,1271.5 L1234.2,1281.5 L1225.3,1291.6 L1216.5,1301.6 L1207.7,1311.6 L1199.0,1321.7 L1190.2,1331.8"/>
<path d="M1080.8,943.6 L1080.7,947.6 L1080.6,951.7 L1080.5,955.7 L1080.5,959.7 L1080.4,963.7 L1080.4,967.7 L1080.4,971.8 L1080.5,975.8 L1080.5,979.8 L1080.6,983.8 L1080.7,987.8 L1080.8,991.8 L1080.9,995.8 L1081.1,999.8 L1081.3,1003.8 L1081.5,1007.8 L1081.7,1011.9 L1081.9,1015.9 L1082.2,1019.9 L1082.5,1023.8 L1082.8,1027.8 L1083.1,1031.8 L1083.4,1035.8 L1083.8,1039.8 L1084.2,1043.8 L1084.6,1047.8 L1085.0,1051.8 L1085.5,1055.8 L1085.9,1059.8 L1086.4,1063.7 L1086.9,1067.7 L1087.4,1071.7 L1088.0,1075.7 L1088.6,1079.7 L1089.1,1083.6 L1089.8,1087.6 L1090.4,1091.6 L1091.0,1095.6 L1091.7,1099.5 L1092.4,1103.5"/>
<path d="M1092.4,1103.5 L1094.5,1109.4 L1096.6,1115.2 L1098.7,1121.1 L1100.8,1126.9 L1103.0,1132.7 L1105.2,1138.6 L1107.3,1144.4 L1109.6,1150.2 L1111.8,1156.0 L1114.0,1161.8 L1116.3,1167.6 L1118.6,1173.3 L1120.9,1179.1 L1123.2,1184.9 L1125.6,1190.6 L1127.9,1196.4 L1130.3,1202.1 L1132.7,1207.8 L1135.1,1213.5 L1137.5,1219.3 L1140.0,1225.0 L1142.5,1230.7 L1145.0,1236.3 L1147.5,1242.0 L1150.0,1247.7 L1152.6,1253.4 L1155.1,1259.0 L1157.7,1264.7 L1160.3,1270.3 L1162.9,1275.9 L1165.6,1281.6 L1168.2,1287.2 L1170.9,1292.8 L1173.6,1298.4 L1176.3,1304.0 L1179.1,1309.5 L1181.8,1315.1 L1184.6,1320.7 L1187.4,1326.2 L1190.2,1331.8"/>
<path d="M1080.8,943.6 L1075.6,950.3 L1070.3,957.1 L1065.1,963.8 L1059.8,970.5 L1054.6,977.3 L1049.3,984.1 L1044.1,990.8 L1038.8,997.6 L1033.6,1004.4 L1028.3,1011.2 L1023.1,1018.0 L1017.9,1024.8 L1012.6,1031.6 L1007.4,1038.4 L1002.2,1045.2 L997.0,1052.1 L991.8,1058.9 L986.6,1065.8 L981.4,1072.6 L976.2,1079.5 L971.1,1086.4 L965.9,1093.3 L960.8,1100.2 L955.6,1107.1 L950.5,1114.0 L945.4,1120.9 L940.3,1127.9 L935.3,1134.9 L930.2,1141.8 L925.2,1148.8 L920.2,1155.8 L915.2,1162.8 L910.2,1169.8 L905.2,1176.9 L900.3,1183.9 L895.3,1191.0 L890.4,1198.0 L885.6,1205.1 L880.7,1212.2 L875.9,1219.3 L871.1,1226.5 L866.3,1233.6 L861.5,1240.8 L856.8,1247.9 L852.1,1255.1 L847.4,1262.3 L842.7,1269.6 L838.1,1276.8 L833.5,1284.1 L829.0,1291.3 L824.4,1298.6 L819.9,1305.9 L815.4,1313.2 L811.0,1320.6 L806.6,1327.9 L802.2,1335.3 L797.9,1342.7 L793.6,1350.1 L789.3,1357.5 L785.1,1365.0 L780.9,1372.4 L776.8,1379.9 L772.7,1387.4 L768.6,1395.0 L764.6,1402.5 L760.6,1410.1 L756.6,1417.7 L752.7,1425.3 L748.8,1432.9 L745.0,1440.6 L741.3,1448.2 L737.5,1455.9 L733.8,1463.6 L730.2,1471.4 L726.6,1479.1 L723.1,1486.9 L719.6,1494.7 L716.1,1502.5 L712.7,1510.4 L709.4,1518.3 L706.1,1526.2 L702.8,1534.1 L699.6,1542.0 L696.5,1550.0 L693.4,1558.0 L690.4,1566.0 L687.4,1574.0 L684.5,1582.1 L681.6,1590.2 L678.8,1598.3 L676.0,1606.5 L673.4,1614.6 L670.7,1622.8 L668.1,1631.1 L665.6,1639.3 L663.2,1647.6 L660.8,1655.9 L658.5,1664.2 L656.2,1672.6 L654.0,1681.0"/>
<path d="M1092.4,1103.5 L1087.6,1108.9 L1082.7,1114.4 L1077.9,1119.8 L1073.1,1125.3 L1068.4,1130.8 L1063.6,1136.3 L1058.8,1141.8 L1054.1,1147.3 L1049.4,1152.8 L1044.7,1158.3 L1040.0,1163.9 L1035.3,1169.4 L1030.6,1175.0 L1026.0,1180.6 L1021.3,1186.1 L1016.7,1191.7 L1012.1,1197.3 L1007.5,1202.9 L1002.9,1208.6 L998.3,1214.2 L993.8,1219.8 L989.2,1225.5 L984.7,1231.1 L980.1,1236.8 L975.6,1242.5 L971.1,1248.1 L966.6,1253.8 L962.1,1259.5 L957.6,1265.2 L953.2,1270.9 L948.7,1276.6 L944.2,1282.4 L939.8,1288.1 L935.4,1293.8 L931.0,1299.6 L926.5,1305.3 L922.1,1311.1 L917.7,1316.9 L913.4,1322.6 L909.0,1328.4 L904.6,1334.2 L900.2,1340.0 L895.9,1345.8 L891.5,1351.6 L887.2,1357.4 L882.9,1363.2 L878.5,1369.0 L874.2,1374.8 L869.9,1380.7 L865.6,1386.5 L861.3,1392.3 L857.0,1398.2 L852.7,1404.0 L848.4,1409.9 L844.2,1415.7 L839.9,1421.6 L835.6,1427.4 L831.4,1433.3 L827.1,1439.2 L822.8,1445.1 L818.6,1450.9 L814.3,1456.8 L810.1,1462.7 L805.9,1468.6 L801.6,1474.5 L797.4,1480.3 L793.2,1486.2 L788.9,1492.1 L784.7,1498.0 L780.5,1503.9 L776.3,1509.8 L772.0,1515.7 L767.8,1521.6 L763.6,1527.5 L759.4,1533.4 L755.2,1539.3 L751.0,1545.2 L746.8,1551.1 L742.6,1557.1 L738.4,1563.0 L734.1,1568.9 L729.9,1574.8 L725.7,1580.7 L721.5,1586.6 L717.3,1592.5 L713.1,1598.4 L708.9,1604.3 L704.7,1610.2 L700.5,1616.1 L696.3,1622.0 L692.0,1627.9 L687.8,1633.8 L683.6,1639.7 L679.4,1645.6 L675.2,1651.5 L670.9,1657.4 L666.7,1663.3 L662.5,1669.2 L658.2,1675.1 L654.0,1681.0"/>
<path d="M242.4,1770.2 L654.0,1681.0"/>
<path d="M654.0,1681.0 L755.8,2064.0"/>
<path d="M1190.2,1331.8 L1187.4,1350.6 L1184.5,1369.3 L1181.6,1388.1 L1178.6,1406.8 L1175.6,1425.5 L1172.5,1444.2 L1169.4,1462.9 L1166.2,1481.6 L1162.9,1500.2 L1159.5,1518.9 L1156.1,1537.5 L1152.6,1556.1 L1149.0,1574.6 L1145.3,1593.2 L1141.5,1611.7 L1137.6,1630.2 L1133.6,1648.6 L1129.4,1667.1 L1125.2,1685.5 L1120.9,1703.9 L1116.5,1722.2 L1111.9,1740.6 L1107.2,1758.9 L1102.4,1777.1 L1097.4,1795.3 L1092.3,1813.5 L1087.1,1831.7 L1081.7,1849.8 L1076.1,1867.9 L1070.5,1885.9 L1064.6,1903.9 L1058.6,1921.9 L1052.5,1939.8 L1046.1,1957.7 L1039.6,1975.5 L1032.9,1993.3 L1026.1,2011.1 L1019.0,2028.7 L1011.8,2046.4 L1004.4,2064.0"/>
<path d="M1190.2,1331.8 L1187.8,1350.6 L1185.2,1369.3 L1182.6,1388.0 L1179.9,1406.7 L1177.1,1425.4 L1174.3,1444.1 L1171.3,1462.7 L1168.2,1481.3 L1165.1,1499.9 L1161.8,1518.5 L1158.5,1537.1 L1155.1,1555.6 L1151.5,1574.1 L1147.9,1592.6 L1144.2,1611.0 L1140.3,1629.5 L1136.4,1647.9 L1132.3,1666.3 L1128.2,1684.6 L1124.0,1703.0 L1119.6,1721.3 L1115.1,1739.5 L1110.6,1757.8 L1105.9,1776.0 L1101.1,1794.2 L1096.2,1812.4 L1091.2,1830.6 L1086.1,1848.7 L1080.9,1866.8 L1075.5,1884.9 L1070.0,1902.9 L1064.4,1920.9 L1058.7,1938.9 L1052.9,1956.9 L1047.0,1974.8 L1040.9,1992.7 L1034.7,2010.6 L1028.4,2028.4 L1022.0,2046.2 L1015.4,2064.0"/>
<path d="M953.7,128.5 L995.6,189.0"/>
</g>
<g stroke="#808080" stroke-opacity="0.40" stroke-width="2.6" fill="none">
<path d="M215.2,2064.0 V2049.5"/>
<path d="M253.9,2064.0 V2049.5"/>
<path d="M292.7,2064.0 V2049.5"/>
<path d="M331.4,2064.0 V2049.5"/>
<path d="M370.1,2064.0 V2032.0"/>
<path d="M408.8,2064.0 V2049.5"/>
<path d="M447.5,2064.0 V2049.5"/>
<path d="M486.3,2064.0 V2049.5"/>
<path d="M525.0,2064.0 V2049.5"/>
<path d="M563.7,2064.0 V2032.0"/>
<path d="M602.4,2064.0 V2049.5"/>
<path d="M641.1,2064.0 V2049.5"/>
<path d="M679.9,2064.0 V2049.5"/>
<path d="M718.6,2064.0 V2049.5"/>
<path d="M757.3,2064.0 V2032.0"/>
<path d="M796.0,2064.0 V2049.5"/>
<path d="M834.7,2064.0 V2049.5"/>
<path d="M873.5,2064.0 V2049.5"/>
<path d="M912.2,2064.0 V2049.5"/>
<path d="M950.9,2064.0 V2032.0"/>
<path d="M989.6,2064.0 V2049.5"/>
<path d="M1028.3,2064.0 V2049.5"/>
<path d="M1067.1,2064.0 V2049.5"/>
<path d="M1105.8,2064.0 V2049.5"/>
<path d="M1144.5,2064.0 V2032.0"/>
<path d="M1183.2,2064.0 V2049.5"/>
<path d="M1221.9,2064.0 V2049.5"/>
<path d="M1260.7,2064.0 V2049.5"/>
<path d="M1299.4,2064.0 V2049.5"/>
<path d="M1338.1,2064.0 V2032.0"/>
<path d="M1376.8,2064.0 V2049.5"/>
<path d="M1415.5,2064.0 V2049.5"/>
<path d="M1454.3,2064.0 V2049.5"/>
<path d="M1493.0,2064.0 V2049.5"/>
<path d="M1531.7,2064.0 V2032.0"/>
<path d="M1570.4,2064.0 V2049.5"/>
<path d="M1609.1,2064.0 V2049.5"/>
<path d="M1647.9,2064.0 V2049.5"/>
<path d="M1686.6,2064.0 V2049.5"/>
<path d="M1725.3,2064.0 V2032.0"/>
<path d="M1764.0,2064.0 V2049.5"/>
<path d="M1802.7,2064.0 V2049.5"/>
<path d="M1841.5,2064.0 V2049.5"/>
<path d="M1880.2,2064.0 V2049.5"/>
<path d="M1918.9,2064.0 V2032.0"/>
<path d="M1957.6,2064.0 V2049.5"/>
<path d="M1996.3,2064.0 V2049.5"/>
<path d="M2035.1,2064.0 V2049.5"/>
<path d="M2073.8,2064.0 V2049.5"/>
<path d="M176.5,205.9 H192.0"/>
<path d="M176.5,283.3 H192.0"/>
<path d="M176.5,360.8 H192.0"/>
<path d="M176.5,438.2 H192.0"/>
<path d="M176.5,515.6 H207.5"/>
<path d="M176.5,593.0 H192.0"/>
<path d="M176.5,670.4 H192.0"/>
<path d="M176.5,747.9 H192.0"/>
<path d="M176.5,825.3 H192.0"/>
<path d="M176.5,902.7 H207.5"/>
<path d="M176.5,980.1 H192.0"/>
<path d="M176.5,1057.5 H192.0"/>
<path d="M176.5,1135.0 H192.0"/>
<path d="M176.5,1212.4 H192.0"/>
<path d="M176.5,1289.8 H207.5"/>
<path d="M176.5,1367.2 H192.0"/>
<path d="M176.5,1444.6 H192.0"/>
<path d="M176.5,1522.1 H192.0"/>
<path d="M176.5,1599.5 H192.0"/>
<path d="M176.5,1676.9 H207.5"/>
<path d="M176.5,1754.3 H192.0"/>
<path d="M176.5,1831.7 H192.0"/>
<path d="M176.5,1909.2 H192.0"/>
<path d="M176.5,1986.6 H192.0"/>
</g>
<path fill="none" stroke="#000" stroke-width="5.6" stroke-linejoin="miter" d="M1545.8,128.5 L1546.0,129.9 L1546.2,131.2 L1546.5,132.6 L1546.7,133.9 L1546.9,135.3 L1547.1,136.6 L1547.3,138.0 L1547.5,139.4 L1547.8,140.7 L1548.0,142.1 L1548.2,143.4 L1548.4,144.8 L1548.6,146.2 L1548.8,147.5 L1549.0,148.9 L1549.2,150.2 L1549.5,151.6 L1549.7,152.9 L1549.9,154.3 L1550.1,155.7 L1550.3,157.0 L1550.5,158.4 L1550.7,159.7 L1550.9,161.1 L1551.1,162.5 L1551.3,163.8 L1551.5,165.2 L1551.7,166.5 L1551.9,167.9 L1552.1,169.3 L1552.3,170.6 L1552.5,172.0 L1552.7,173.3 L1552.9,174.7 L1553.1,176.1 L1553.3,177.4 L1553.5,178.8 L1553.7,180.1 L1553.9,181.5 L1554.1,182.9 L1554.3,184.2 L1554.5,185.6 L1554.7,187.0 L1554.9,188.3 L1555.1,189.7 L1555.3,191.0 L1555.5,192.4 L1555.7,193.8 L1555.9,195.1 L1556.1,196.5 L1556.3,197.8 L1556.4,199.2 L1556.6,200.6 L1556.8,201.9 L1557.0,203.3 L1557.2,204.7 L1557.4,206.0 L1557.6,207.4 L1557.8,208.7 L1557.9,210.1 L1558.1,211.5 L1558.3,212.8 L1558.5,214.2 L1558.7,215.6 L1558.8,216.9 L1559.0,218.3 L1559.2,219.6 L1559.4,221.0 L1559.6,222.4 L1559.7,223.7 L1559.9,225.1 L1560.1,226.5 L1560.3,227.8 L1560.4,229.2 L1560.6,230.6 L1560.8,231.9 L1561.0,233.3 L1561.1,234.6 L1561.3,236.0 L1561.5,237.4 L1561.6,238.7 L1561.8,240.1 L1562.0,241.5 L1562.2,242.8 L1562.3,244.2 L1562.5,245.6 L1562.7,246.9 L1562.8,248.3 L1563.0,249.7 L1563.1,251.0 L1563.3,252.4 L1563.5,253.7 L1563.6,255.1 L1563.8,256.5 L1563.9,257.8 L1564.1,259.2 L1564.3,260.6 L1564.4,261.9 L1564.6,263.3 L1564.7,264.7 L1564.9,266.0 L1565.0,267.4 L1565.2,268.8 L1565.4,270.1 L1565.5,271.5 L1565.7,272.9 L1565.8,274.2 L1566.0,275.6 L1566.1,277.0 L1566.3,278.3 L1566.4,279.7 L1566.5,281.1 L1566.7,282.4 L1566.8,283.8 L1567.0,285.2 L1567.1,286.5 L1567.3,287.9 L1567.4,289.3 L1567.6,290.6 L1567.7,292.0 L1567.8,293.4 L1568.0,294.7 L1568.1,296.1 L1568.3,297.5 L1568.4,298.8 L1568.5,300.2 L1568.7,301.6 L1568.8,302.9 L1568.9,304.3 L1569.1,305.7 L1569.2,307.0 L1569.3,308.4 L1569.5,309.8 L1569.6,311.1 L1569.7,312.5 L1569.8,313.9 L1570.0,315.2 L1570.1,316.6 L1570.2,318.0 L1570.3,319.3 L1570.5,320.7 L1570.6,322.1 L1570.7,323.5 L1570.8,324.8 L1571.0,326.2 L1571.1,327.6 L1571.2,328.9 L1571.3,330.3 L1571.4,331.7 L1571.5,333.0 L1571.7,334.4 L1571.8,335.8 L1571.9,337.1 L1572.0,338.5 L1572.1,339.9 L1572.2,341.2 L1572.3,342.6 L1572.4,344.0 L1572.6,345.3 L1572.7,346.7 L1572.8,348.1 L1572.9,349.5 L1573.0,350.8 L1573.1,352.2 L1573.2,353.6 L1573.3,354.9 L1573.4,356.3 L1573.5,357.7 L1573.6,359.0 L1573.7,360.4 L1573.8,361.8 L1573.9,363.2 L1574.0,364.5 L1574.1,365.9 L1574.2,367.3 L1574.3,368.6 L1574.4,370.0 L1574.5,371.4 L1574.5,372.7 L1574.6,374.1 L1574.7,375.5 L1574.8,376.9 L1574.9,378.2 L1575.0,379.6 L1575.1,381.0 L1575.2,382.3 L1575.2,383.7 L1575.3,385.1 L1575.4,386.4 L1575.5,387.8 L1575.6,389.2 L1575.6,390.6 L1575.7,391.9 L1575.8,393.3 L1575.9,394.7 L1576.0,396.0 L1576.0,397.4 L1576.1,398.8 L1576.2,400.1 L1576.2,401.5 L1576.3,402.9 L1576.4,404.3 L1576.5,405.6 L1576.5,407.0 L1576.6,408.4 L1576.7,409.7 L1576.7,411.1 L1576.8,412.5 L1576.9,413.9 L1576.9,415.2 L1577.0,416.6 L1577.0,418.0 L1577.1,419.3 L1577.2,420.7 L1577.2,422.1 L1577.3,423.5 L1577.3,424.8 L1577.4,426.2 L1577.4,427.6 L1577.5,428.9 L1577.5,430.3 L1577.6,431.7 L1577.6,433.1 L1577.7,434.4 L1577.7,435.8 L1577.8,437.2 L1577.8,438.5 L1577.9,439.9 L1577.9,441.3 L1578.0,442.7 L1578.0,444.0 L1578.0,445.4 L1578.1,446.8 L1578.1,448.1 L1578.2,449.5 L1578.2,450.9 L1578.2,452.3 L1578.3,453.6 L1578.3,455.0 L1578.3,456.4 L1578.4,457.8 L1578.4,459.1 L1578.4,460.5 L1578.4,461.9 L1578.5,463.2 L1578.5,464.6 L1578.5,466.0 L1578.5,467.4 L1578.6,468.7 L1578.6,470.1 L1578.6,471.5 L1578.6,472.8 L1578.7,474.2 L1578.7,475.6 L1578.7,477.0 L1578.7,478.3 L1578.7,479.7 L1578.7,481.1 L1578.7,482.5 L1578.8,483.8 L1578.8,485.2 L1578.8,486.6 L1578.8,487.9 L1578.8,489.3 L1578.8,490.7 L1578.8,492.1 L1578.8,493.4 L1578.8,494.8 L1578.8,496.2 L1578.8,497.5 L1578.8,498.9 L1578.8,500.3 L1578.8,501.7 L1578.8,503.0 L1578.8,504.4 L1578.8,505.8 L1578.8,507.2 L1578.8,508.5 L1578.8,509.9 L1578.8,511.3 L1578.8,512.6 L1578.7,514.0 L1578.7,515.4 L1578.7,516.8 L1578.7,518.1 L1578.7,519.5 L1578.7,520.9 L1578.6,522.3 L1578.6,523.6 L1578.6,525.0 L1578.6,526.4 L1578.6,527.8 L1578.5,529.1 L1578.5,530.5 L1578.5,531.9 L1578.5,533.2 L1578.4,534.6 L1578.4,536.0 L1578.4,537.4 L1578.3,538.7 L1578.3,540.1 L1578.3,541.5 L1578.2,542.9 L1578.2,544.2 L1578.2,545.6 L1578.1,547.0 L1578.1,548.3 L1578.0,549.7 L1578.0,551.1 L1577.9,552.5 L1577.9,553.8 L1577.9,555.2 L1577.8,556.6 L1577.8,558.0 L1577.7,559.3 L1577.7,560.7 L1577.6,562.1 L1577.6,563.4 L1577.5,564.8 L1577.4,566.2 L1577.4,567.6 L1577.3,568.9 L1577.3,570.3 L1577.2,571.7 L1577.2,573.1 L1577.1,574.4 L1577.0,575.8 L1577.0,577.2 L1576.9,578.5 L1576.8,579.9 L1576.8,581.3 L1576.7,582.7 L1576.6,584.0 L1576.5,585.4 L1576.5,586.8 L1576.4,588.2 L1576.3,589.5 L1576.2,590.9 L1576.2,592.3 L1576.1,593.7 L1576.0,595.0 L1575.9,596.4 L1575.8,597.8 L1575.8,599.1 L1575.7,600.5 L1575.6,601.9 L1575.5,603.3 L1575.4,604.6 L1575.3,606.0 L1575.2,607.4 L1575.1,608.8 L1575.0,610.1 L1574.9,611.5 L1574.8,612.9 L1574.7,614.2 L1574.6,615.6 L1574.5,617.0 L1574.4,618.4 L1574.3,619.7 L1574.2,621.1 L1574.1,622.5 L1574.0,623.9 L1573.9,625.2 L1573.8,626.6 L1573.7,628.0 L1573.6,629.3 L1573.5,630.7 L1573.4,632.1 L1573.2,633.5 L1573.1,634.8 L1573.0,636.2 L1572.9,637.6 L1572.8,639.0 L1572.6,640.3 L1572.5,641.7 L1572.4,643.1 L1572.3,644.4 L1572.1,645.8 L1572.0,647.2 L1571.9,648.6 L1571.7,649.9 L1571.6,651.3 L1571.5,652.7 L1571.3,654.0 L1571.2,655.4 L1571.1,656.8 L1570.9,658.2 L1570.8,659.5 L1570.6,660.9 L1570.5,662.3 L1570.4,663.7 L1570.2,665.0 L1570.1,666.4 L1569.9,667.8 L1569.8,669.1 L1569.6,670.5 L1569.5,671.9 L1569.3,673.3 L1569.2,674.6 L1569.0,676.0 L1539.0,840.0 L1521.5,913.5 L1523.3,923.3 L1525.0,933.2 L1526.8,943.0 L1528.6,952.9 L1530.4,962.7 L1532.2,972.6 L1534.0,982.4 L1535.8,992.3 L1537.6,1002.1 L1539.4,1012.0 L1541.2,1021.9 L1543.0,1031.7 L1544.9,1041.6 L1546.7,1051.4 L1548.6,1061.3 L1550.4,1071.1 L1552.3,1081.0 L1554.2,1090.9 L1556.1,1100.7 L1558.0,1110.6 L1559.9,1120.4 L1561.8,1130.3 L1563.8,1140.1 L1565.7,1150.0 L1567.7,1159.8 L1569.7,1169.7 L1571.6,1179.5 L1573.6,1189.4 L1575.7,1199.2 L1577.7,1209.1 L1579.7,1218.9 L1581.8,1228.7 L1583.8,1238.6 L1585.9,1248.4 L1588.0,1258.2 L1590.2,1268.0 L1592.3,1277.9 L1594.4,1287.7 L1596.6,1297.5 L1598.8,1307.3 L1601.0,1317.1 L1603.2,1326.9 L1605.4,1336.7 L1607.7,1346.5 L1610.0,1356.2 L1612.3,1366.0 L1614.6,1375.8 L1616.9,1385.6 L1619.3,1395.3 L1621.6,1405.1 L1624.0,1414.8 L1626.4,1424.6 L1628.9,1434.3 L1631.3,1444.0 L1633.8,1453.8 L1636.3,1463.5 L1638.9,1473.2 L1641.4,1482.9 L1644.0,1492.6 L1646.6,1502.3 L1649.2,1512.0 L1651.9,1521.7 L1654.5,1531.3 L1657.2,1541.0 L1660.0,1550.6 L1662.7,1560.3 L1665.5,1569.9 L1668.3,1579.5 L1671.1,1589.1 L1674.0,1598.8 L1676.9,1608.4 L1679.8,1617.9 L1682.7,1627.5 L1685.7,1637.1 L1688.7,1646.7 L1691.7,1656.2 L1694.8,1665.7 L1697.9,1675.3 L1701.0,1684.8 L1704.1,1694.3 L1707.3,1703.8 L1710.5,1713.3 L1713.8,1722.8 L1717.0,1732.2 L1720.4,1741.7 L1723.7,1751.1 L1727.1,1760.5 L1730.5,1770.0 L1733.9,1779.4 L1737.4,1788.8 L1740.9,1798.1 L1744.5,1807.5 L1748.0,1816.9 L1751.7,1826.2 L1755.3,1835.5 L1759.0,1844.8 L1762.7,1854.2 L1766.5,1863.4 L1770.3,1872.7 L1774.1,1882.0 L1778.0,1891.2 L1781.9,1900.5 L1785.9,1909.7 L1789.9,1918.9 L1793.9,1928.1 L1798.0,1937.2 L1802.1,1946.4 L1806.2,1955.5 L1810.4,1964.7 L1814.6,1973.8 L1818.9,1982.9 L1823.2,1992.0 L1827.6,2001.0 L1832.0,2010.1 L1836.4,2019.1 L1840.9,2028.1 L1845.4,2037.1 L1850.0,2046.1 L1854.6,2055.1 L1859.3,2064.0"/>
<g stroke="#111" stroke-width="3.4" fill="none">
<path d="M177.5,1321.2 L200.8,1316.6"/>
<path d="M214.6,1313.7 L250.3,1306.0"/>
<path d="M264.0,1303.4 L288.7,1297.6"/>
</g>
<g stroke="#222" stroke-width="1.7" fill="none">
<path d="M418.0,204.7 L460.0,204.7"/>
<path d="M953.7,312.0 L969.5,327.0"/>
<path d="M757.5,574.6 L820.7,543.7"/>
<path d="M1441.0,205.0 L1461.0,259.0"/>
<path d="M1038.7,439.3 L1092.3,473.6"/>
<path d="M667.9,1009.3 L726.9,969.5"/>
<path d="M231.0,1748.4 L297.0,1705.8"/>
<path d="M198.0,1964.8 L235.2,2030.0"/>
<path d="M1063.5,1916.0 L1117.0,1962.0"/>
</g>
<rect x="176.5" y="128.5" width="1936.0" height="1935.5" fill="none" stroke="#7a7a7a" stroke-width="2.2"/>
<path d="M175.5,2064.0 H1862.0" stroke="#1a1a1a" stroke-width="2.6" fill="none"/>
<path d="M176.5,128.5 V2065.2" stroke="#2e2e2e" stroke-width="2.3" fill="none"/>
<g>
<text xml:space="preserve" font-size="47.5" text-anchor="start" textLength="82.5" lengthAdjust="spacingAndGlyphs" x="170.7" y="58.4">H<tspan font-size="28.5" dy="12.8">2</tspan><tspan dy="-12.8">O</tspan></text>
<text xml:space="preserve" font-size="47.5" text-anchor="start" textLength="87.7" lengthAdjust="spacingAndGlyphs" x="331.7" y="58.4">SiO<tspan font-size="28.5" dy="12.8">2</tspan></text>
<text xml:space="preserve" font-size="47.5" text-anchor="start" textLength="108.9" lengthAdjust="spacingAndGlyphs" x="493.4" y="58.4">Al<tspan font-size="28.5" dy="12.8">2</tspan><tspan dy="-12.8">O</tspan><tspan font-size="28.5" dy="12.8">3</tspan></text>
<text xml:space="preserve" font-size="47.5" text-anchor="start" textLength="88.6" lengthAdjust="spacingAndGlyphs" x="655.7" y="58.4">CaO</text>
<text xml:space="preserve" font-size="47.5" text-anchor="start" textLength="103.7" lengthAdjust="spacingAndGlyphs" x="808.3" y="58.4">MgO</text>
<text xml:space="preserve" font-size="47.5" text-anchor="start" textLength="84.0" lengthAdjust="spacingAndGlyphs" x="965.5" y="58.4">FeO</text>
<text xml:space="preserve" font-size="47.5" text-anchor="start" textLength="75.6" lengthAdjust="spacingAndGlyphs" x="1114.4" y="58.4">K<tspan font-size="28.5" dy="12.8">2</tspan><tspan dy="-12.8">O</tspan></text>
<text xml:space="preserve" font-size="47.5" text-anchor="start" textLength="107.8" lengthAdjust="spacingAndGlyphs" x="1261.2" y="58.4">Na<tspan font-size="28.5" dy="12.8">2</tspan><tspan dy="-12.8">O</tspan></text>
<text xml:space="preserve" font-size="47.5" text-anchor="start" textLength="89.7" lengthAdjust="spacingAndGlyphs" x="1427.7" y="58.4">TiO<tspan font-size="28.5" dy="12.8">2</tspan></text>
<text xml:space="preserve" font-size="47.5" text-anchor="start" textLength="104.5" lengthAdjust="spacingAndGlyphs" x="1564.5" y="58.4">MnO</text>
<text xml:space="preserve" font-size="47.5" text-anchor="start" textLength="35.4" lengthAdjust="spacingAndGlyphs" x="1732.6" y="58.4">O</text>
<text xml:space="preserve" font-size="47.5" text-anchor="start" textLength="88.6" lengthAdjust="spacingAndGlyphs" x="170.7" y="118.0">3.64</text>
<text xml:space="preserve" font-size="47.5" text-anchor="start" textLength="113.7" lengthAdjust="spacingAndGlyphs" x="333.0" y="118.0">54.20</text>
<text xml:space="preserve" font-size="47.5" text-anchor="start" textLength="108.3" lengthAdjust="spacingAndGlyphs" x="495.5" y="118.0">13.44</text>
<text xml:space="preserve" font-size="47.5" text-anchor="start" textLength="88.6" lengthAdjust="spacingAndGlyphs" x="657.2" y="118.0">0.46</text>
<text xml:space="preserve" font-size="47.5" text-anchor="start" textLength="109.8" lengthAdjust="spacingAndGlyphs" x="814.3" y="118.0">15.14</text>
<text xml:space="preserve" font-size="47.5" text-anchor="start" textLength="83.1" lengthAdjust="spacingAndGlyphs" x="966.4" y="118.0">8.51</text>
<text xml:space="preserve" font-size="47.5" text-anchor="start" textLength="86.4" lengthAdjust="spacingAndGlyphs" x="1119.6" y="118.0">0.66</text>
<text xml:space="preserve" font-size="47.5" text-anchor="start" textLength="86.4" lengthAdjust="spacingAndGlyphs" x="1272.7" y="118.0">3.16</text>
<text xml:space="preserve" font-size="47.5" text-anchor="start" textLength="86.4" lengthAdjust="spacingAndGlyphs" x="1434.3" y="118.0">0.33</text>
<text xml:space="preserve" font-size="47.5" text-anchor="start" textLength="88.0" lengthAdjust="spacingAndGlyphs" x="1564.5" y="118.0">0.07</text>
<text xml:space="preserve" font-size="47.5" text-anchor="start" textLength="88.1" lengthAdjust="spacingAndGlyphs" x="1739.2" y="118.0">0.40</text>
<text xml:space="preserve" font-size="47.0" text-anchor="middle" textLength="25.9" lengthAdjust="spacingAndGlyphs" x="98.5" y="145.5">6</text>
<text xml:space="preserve" font-size="47.0" text-anchor="middle" textLength="25.9" lengthAdjust="spacingAndGlyphs" x="98.5" y="532.6">5</text>
<text xml:space="preserve" font-size="47.0" text-anchor="middle" textLength="25.9" lengthAdjust="spacingAndGlyphs" x="98.5" y="919.7">4</text>
<text xml:space="preserve" font-size="47.0" text-anchor="middle" textLength="25.9" lengthAdjust="spacingAndGlyphs" x="98.5" y="1306.8">3</text>
<text xml:space="preserve" font-size="47.0" text-anchor="middle" textLength="25.9" lengthAdjust="spacingAndGlyphs" x="98.5" y="1693.9">2</text>
<text xml:space="preserve" font-size="47.0" text-anchor="middle" textLength="25.9" lengthAdjust="spacingAndGlyphs" x="98.5" y="2081.0">1</text>
<text xml:space="preserve" font-size="47.0" text-anchor="middle" textLength="77.6" lengthAdjust="spacingAndGlyphs" x="176.5" y="2161.0">400</text>
<text xml:space="preserve" font-size="47.0" text-anchor="middle" textLength="77.6" lengthAdjust="spacingAndGlyphs" x="370.1" y="2161.0">450</text>
<text xml:space="preserve" font-size="47.0" text-anchor="middle" textLength="77.6" lengthAdjust="spacingAndGlyphs" x="563.7" y="2161.0">500</text>
<text xml:space="preserve" font-size="47.0" text-anchor="middle" textLength="77.6" lengthAdjust="spacingAndGlyphs" x="757.3" y="2161.0">550</text>
<text xml:space="preserve" font-size="47.0" text-anchor="middle" textLength="77.6" lengthAdjust="spacingAndGlyphs" x="950.9" y="2161.0">600</text>
<text xml:space="preserve" font-size="47.0" text-anchor="middle" textLength="77.6" lengthAdjust="spacingAndGlyphs" x="1144.5" y="2161.0">650</text>
<text xml:space="preserve" font-size="47.0" text-anchor="middle" textLength="77.6" lengthAdjust="spacingAndGlyphs" x="1338.1" y="2161.0">700</text>
<text xml:space="preserve" font-size="47.0" text-anchor="middle" textLength="77.6" lengthAdjust="spacingAndGlyphs" x="1531.7" y="2161.0">750</text>
<text xml:space="preserve" font-size="47.0" text-anchor="middle" textLength="77.6" lengthAdjust="spacingAndGlyphs" x="1725.3" y="2161.0">800</text>
<text xml:space="preserve" font-size="47.0" text-anchor="middle" textLength="77.6" lengthAdjust="spacingAndGlyphs" x="1918.9" y="2161.0">850</text>
<text xml:space="preserve" font-size="47.0" text-anchor="middle" textLength="77.6" lengthAdjust="spacingAndGlyphs" x="2112.5" y="2161.0">900</text>
<text xml:space="preserve" font-size="47.0" text-anchor="middle" textLength="310.3" lengthAdjust="spacingAndGlyphs" transform="translate(50.5,1098.0) rotate(-90.00)" x="0" y="0">Pressure (kbar)</text>
<text xml:space="preserve" font-size="47.0" text-anchor="middle" textLength="358.3" lengthAdjust="spacingAndGlyphs" x="1121.0" y="2237.0">Temperature (<tspan font-size="28.2" dy="-15.5">o</tspan><tspan dy="15.5">C)</tspan></text>
<text xml:space="preserve" font-size="42.6" text-anchor="start" textLength="516.4" lengthAdjust="spacingAndGlyphs" x="159.0" y="2304.5">1. pl g ky bi opx st chl ilm q</text>
<text xml:space="preserve" font-size="42.6" text-anchor="start" textLength="519.7" lengthAdjust="spacingAndGlyphs" x="158.0" y="2361.0">2. pl g bi opx st chl cd ilm q</text>
<text xml:space="preserve" font-size="46.2" text-anchor="start" textLength="635.4" lengthAdjust="spacingAndGlyphs" x="945.0" y="2306.0">3.  pl g bi cd opx st mt chl ilm q</text>
<text xml:space="preserve" font-size="46.2" text-anchor="start" textLength="615.8" lengthAdjust="spacingAndGlyphs" x="945.0" y="2362.5">4. pl and bi opx st mt chl ilm q</text>
<text xml:space="preserve" font-size="47.0" text-anchor="start" textLength="240.1" lengthAdjust="spacingAndGlyphs" x="464.0" y="190.0">pl ky bi opx</text>
<text xml:space="preserve" font-size="47.0" text-anchor="start" textLength="225.2" lengthAdjust="spacingAndGlyphs" x="467.0" y="249.5">st chl ilm q</text>
<text xml:space="preserve" font-size="47.0" text-anchor="middle" textLength="182.1" lengthAdjust="spacingAndGlyphs" x="656.0" y="383.0">pl bi opx</text>
<text xml:space="preserve" font-size="47.0" text-anchor="middle" textLength="225.2" lengthAdjust="spacingAndGlyphs" x="650.0" y="442.0">st chl ilm q</text>
<text xml:space="preserve" font-size="47.0" text-anchor="middle" textLength="149.8" lengthAdjust="spacingAndGlyphs" x="291.0" y="548.0">pl ky bi</text>
<text xml:space="preserve" font-size="47.0" text-anchor="middle" textLength="196.4" lengthAdjust="spacingAndGlyphs" x="287.0" y="607.0">opx st mt</text>
<text xml:space="preserve" font-size="47.0" text-anchor="middle" textLength="177.9" lengthAdjust="spacingAndGlyphs" x="287.0" y="669.5">chl ilm q</text>
<text xml:space="preserve" font-size="47.0" text-anchor="middle" textLength="243.8" lengthAdjust="spacingAndGlyphs" x="628.0" y="578.5">pl bi cd opx</text>
<text xml:space="preserve" font-size="47.0" text-anchor="middle" textLength="225.2" lengthAdjust="spacingAndGlyphs" x="622.0" y="637.0">st chl ilm q</text>
<text xml:space="preserve" font-size="42.6" text-anchor="middle" textLength="200.1" lengthAdjust="spacingAndGlyphs" x="1135.0" y="216.5">pl g bi opx</text>
<text xml:space="preserve" font-size="42.6" text-anchor="middle" textLength="150.7" lengthAdjust="spacingAndGlyphs" x="1134.5" y="271.5">cd ilm q</text>
<text xml:space="preserve" font-size="42.6" text-anchor="middle" textLength="118.2" lengthAdjust="spacingAndGlyphs" x="1461.0" y="294.5">pl g bi</text>
<text xml:space="preserve" font-size="42.6" text-anchor="middle" textLength="197.2" lengthAdjust="spacingAndGlyphs" x="1461.5" y="349.5">opx cd ilm</text>
<text xml:space="preserve" font-size="42.6" text-anchor="middle" textLength="200.1" lengthAdjust="spacingAndGlyphs" x="1196.0" y="480.0">pl g bi opx</text>
<text xml:space="preserve" font-size="42.6" text-anchor="middle" textLength="213.6" lengthAdjust="spacingAndGlyphs" x="1196.0" y="534.0">cd mt ilm q</text>
<text xml:space="preserve" font-size="42.6" text-anchor="middle" textLength="387.9" lengthAdjust="spacingAndGlyphs" x="1210.0" y="637.0">pl g bi opx cd mt ilm</text>
<text xml:space="preserve" font-size="47.0" text-anchor="middle" textLength="182.1" lengthAdjust="spacingAndGlyphs" x="488.0" y="815.0">pl bi opx</text>
<text xml:space="preserve" font-size="47.0" text-anchor="middle" textLength="179.1" lengthAdjust="spacingAndGlyphs" x="482.0" y="875.0">st mt chl</text>
<text xml:space="preserve" font-size="47.0" text-anchor="middle" textLength="104.8" lengthAdjust="spacingAndGlyphs" x="482.0" y="935.0">ilm q</text>
<text xml:space="preserve" font-size="42.6" text-anchor="middle" textLength="138.1" lengthAdjust="spacingAndGlyphs" x="817.5" y="927.5">pl g chl</text>
<text xml:space="preserve" font-size="42.6" text-anchor="middle" textLength="174.3" lengthAdjust="spacingAndGlyphs" x="815.5" y="983.5">bi opx cd</text>
<text xml:space="preserve" font-size="42.6" text-anchor="middle" textLength="165.2" lengthAdjust="spacingAndGlyphs" x="815.5" y="1039.0">st mt ilm</text>
<text xml:space="preserve" font-size="42.6" text-anchor="middle" textLength="138.1" lengthAdjust="spacingAndGlyphs" x="686.0" y="1272.0">pl g chl</text>
<text xml:space="preserve" font-size="42.6" text-anchor="middle" textLength="174.3" lengthAdjust="spacingAndGlyphs" x="685.0" y="1329.0">bi opx cd</text>
<text xml:space="preserve" font-size="42.6" text-anchor="middle" textLength="122.3" lengthAdjust="spacingAndGlyphs" x="685.0" y="1384.0">mt ilm</text>
<text xml:space="preserve" font-size="42.6" text-anchor="middle" textLength="266.3" lengthAdjust="spacingAndGlyphs" x="420.0" y="1678.0">pl g chl bi opx</text>
<text xml:space="preserve" font-size="42.6" text-anchor="middle" textLength="213.6" lengthAdjust="spacingAndGlyphs" x="420.0" y="1733.0">cd mt ilm q</text>
<text xml:space="preserve" font-size="42.6" text-anchor="middle" textLength="231.1" lengthAdjust="spacingAndGlyphs" x="471.5" y="1887.0">pl chl bi opx</text>
<text xml:space="preserve" font-size="42.6" text-anchor="middle" textLength="178.2" lengthAdjust="spacingAndGlyphs" x="471.5" y="1942.0">cd mt ilm</text>
<text xml:space="preserve" font-size="42.6" text-anchor="start" textLength="454.3" lengthAdjust="spacingAndGlyphs" x="236.0" y="2043.0">pl chl bi opx cd mt ilm q</text>
<text xml:space="preserve" font-size="42.6" text-anchor="middle" textLength="231.1" lengthAdjust="spacingAndGlyphs" x="903.5" y="1649.0">pl chl bi opx</text>
<text xml:space="preserve" font-size="42.6" text-anchor="middle" textLength="231.9" lengthAdjust="spacingAndGlyphs" x="903.0" y="1704.0">cd sp mt ilm</text>
<text xml:space="preserve" font-size="42.6" text-anchor="middle" textLength="491.4" lengthAdjust="spacingAndGlyphs" x="1415.5" y="1685.5">pl bi opx cd sp mt ilm H<tspan font-size="25.5" dy="11.5">2</tspan><tspan dy="-11.5">O</tspan></text>
<text xml:space="preserve" font-size="42.6" text-anchor="middle" textLength="557.6" lengthAdjust="spacingAndGlyphs" x="1353.0" y="2002.5">pl chl bi opx cd sp mt ilm H<tspan font-size="25.5" dy="11.5">2</tspan><tspan dy="-11.5">O</tspan></text>
<text xml:space="preserve" font-size="42.6" text-anchor="end" textLength="441.6" lengthAdjust="spacingAndGlyphs" transform="translate(1507.3,702.4) rotate(-40.30)" x="0" y="0">pl g bi opx cd sp mt ilm</text>
<text xml:space="preserve" font-size="42.6" text-anchor="end" textLength="406.4" lengthAdjust="spacingAndGlyphs" transform="translate(1489.0,892.0) rotate(-43.50)" x="0" y="0">pl bi opx cd sp mt ilm</text>
<text xml:space="preserve" font-size="42.0" text-anchor="start" textLength="501.2" lengthAdjust="spacingAndGlyphs" transform="translate(763.2,1500.7) rotate(-54.60)" x="0" y="0">pl g chl bi opx cd sp mt ilm</text>
<text xml:space="preserve" font-size="47.0" text-anchor="middle" textLength="360.5" lengthAdjust="spacingAndGlyphs" transform="translate(396.8,1246.0) rotate(-59.00)" x="0" y="0">pl bi cd opx st mt</text>
<text xml:space="preserve" font-size="47.0" text-anchor="middle" textLength="177.9" lengthAdjust="spacingAndGlyphs" transform="translate(447.0,1278.0) rotate(-59.00)" x="0" y="0">chl ilm q</text>
<text xml:space="preserve" font-size="40.7" text-anchor="middle" textLength="22.4" lengthAdjust="spacingAndGlyphs" x="989.0" y="165.0">1</text>
<text xml:space="preserve" font-size="40.7" text-anchor="middle" textLength="22.4" lengthAdjust="spacingAndGlyphs" x="981.0" y="342.0">2</text>
<text xml:space="preserve" font-size="40.7" text-anchor="middle" textLength="22.4" lengthAdjust="spacingAndGlyphs" x="718.5" y="845.5">3</text>
<text xml:space="preserve" font-size="40.7" text-anchor="middle" textLength="22.4" lengthAdjust="spacingAndGlyphs" x="209.0" y="1402.0">4</text>
<text xml:space="preserve" font-size="35.1" text-anchor="middle" textLength="35.4" lengthAdjust="spacingAndGlyphs" transform="translate(224.0,1297.0) rotate(-11.00)" x="0" y="0">ky</text>
<text xml:space="preserve" font-size="35.1" text-anchor="middle" textLength="60.4" lengthAdjust="spacingAndGlyphs" transform="translate(232.0,1342.0) rotate(-11.00)" x="0" y="0">and</text>
</g>
</svg></body></html>
